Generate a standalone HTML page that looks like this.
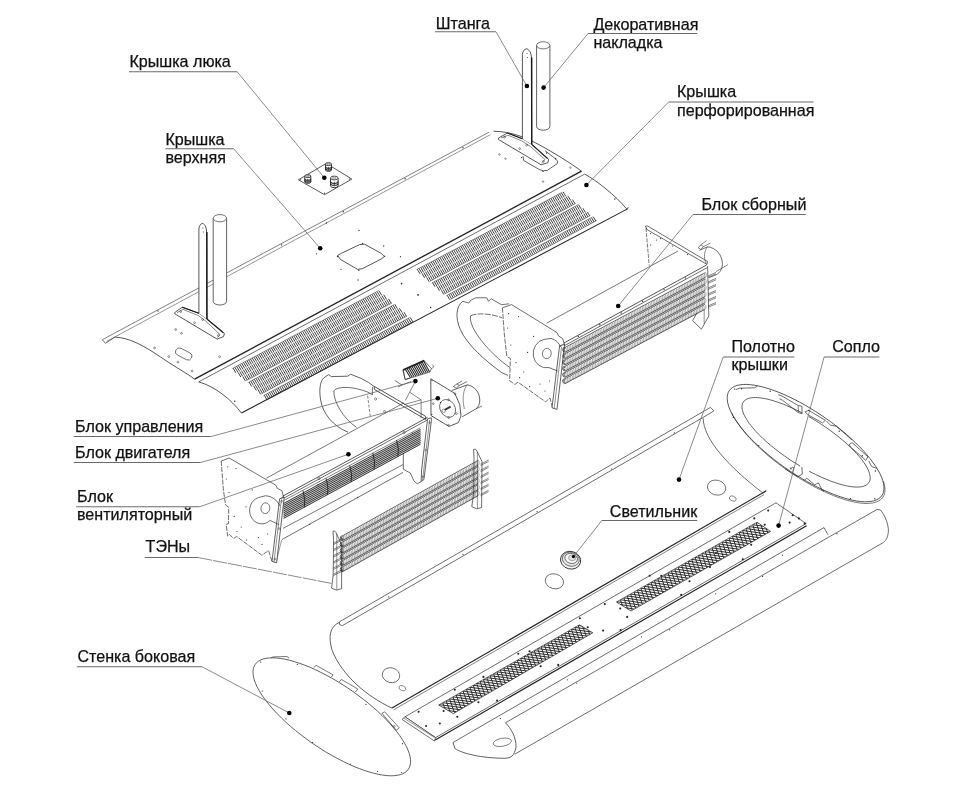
<!DOCTYPE html>
<html lang="ru"><head><meta charset="utf-8"><title>Схема</title>
<style>
html,body{margin:0;padding:0;background:#fff;}
body{width:963px;height:788px;overflow:hidden;}
svg{display:block;will-change:transform;}
text{font-family:"Liberation Sans",sans-serif;font-size:16.1px;fill:#111;stroke:#111;stroke-width:0.25px;}
</style></head><body>
<svg width="963" height="788" viewBox="0 0 963 788">
<rect width="963" height="788" fill="#fff"/>
<line x1="102.3" y1="339.7" x2="489.0" y2="132.2" stroke="#444" stroke-width="0.67" />
<line x1="106.6" y1="341.4" x2="490.5" y2="134.6" stroke="#444" stroke-width="0.56" />
<path d="M102.3,339.7 L105.5,343.3 L115.4,336.8" fill="none" stroke="#262626" stroke-width="0.67" />
<path d="M115.4,337.2 C128,337.4 143,345 160.4,356.9 S186,372.6 194.6,379.2" fill="none" stroke="#262626" stroke-width="0.78" />
<line x1="194.6" y1="379.2" x2="581.5" y2="171.2" stroke="#222" stroke-width="1.34" />
<path d="M493.5,131.2 C512,131.6 527,138 540,145.2 S570,162.6 581.5,171.2" fill="none" stroke="#262626" stroke-width="0.78" />
<circle cx="158.0" cy="311.0" r="0.7" fill="#333"/>
<circle cx="219.8" cy="278.0" r="0.7" fill="#333"/>
<circle cx="281.6" cy="244.9" r="0.7" fill="#333"/>
<circle cx="343.3" cy="211.8" r="0.7" fill="#333"/>
<circle cx="405.1" cy="178.7" r="0.7" fill="#333"/>
<circle cx="463.0" cy="147.7" r="0.7" fill="#333"/>
<path d="M337.6,255.4 L341.6,253.2 L359.6,244.6 L364.6,244.2 L381.6,253.6 L384.4,256.6 L381.2,259.0 L362.6,268.6 L357.6,269.4 L340.4,259.4 Z" fill="none" stroke="#262626" stroke-width="0.78" />
<circle cx="337.5" cy="256.5" r="0.7" fill="#333"/>
<circle cx="362.5" cy="243.5" r="0.7" fill="#333"/>
<circle cx="384.6" cy="256.3" r="0.7" fill="#333"/>
<circle cx="358.8" cy="270.2" r="0.7" fill="#333"/>
<circle cx="316.5" cy="253.8" r="0.65" fill="#333"/>
<circle cx="326.5" cy="223.0" r="0.65" fill="#333"/>
<circle cx="359.0" cy="230.5" r="0.65" fill="#333"/>
<circle cx="383.7" cy="246.0" r="0.65" fill="#333"/>
<circle cx="400.5" cy="256.7" r="0.65" fill="#333"/>
<circle cx="341.0" cy="269.3" r="0.65" fill="#333"/>
<circle cx="358.0" cy="280.0" r="0.65" fill="#333"/>
<circle cx="401.5" cy="283.5" r="0.65" fill="#333"/>
<circle cx="418.2" cy="295.0" r="0.65" fill="#333"/>
<rect x="174.9" y="350.2" width="17.6" height="7.6" rx="3.8" fill="none" stroke="#2a2a2a" stroke-width="0.6" transform="rotate(27 183.7 354)"/>
<circle cx="175.7" cy="329.5" r="0.9" fill="none" stroke="#262626" stroke-width="0.5"/>
<circle cx="181.5" cy="333.3" r="0.9" fill="none" stroke="#262626" stroke-width="0.5"/>
<circle cx="154.6" cy="347.9" r="0.9" fill="none" stroke="#262626" stroke-width="0.5"/>
<circle cx="168.7" cy="356.6" r="0.9" fill="none" stroke="#262626" stroke-width="0.5"/>
<circle cx="177.9" cy="362.2" r="0.9" fill="none" stroke="#262626" stroke-width="0.5"/>
<circle cx="192.1" cy="371.1" r="0.9" fill="none" stroke="#262626" stroke-width="0.5"/>
<circle cx="219.6" cy="356.6" r="0.9" fill="none" stroke="#262626" stroke-width="0.5"/>
<circle cx="499.5" cy="154.5" r="0.8" fill="none" stroke="#262626" stroke-width="0.45"/>
<circle cx="505.5" cy="158.6" r="0.8" fill="none" stroke="#262626" stroke-width="0.45"/>
<circle cx="570.4" cy="167.6" r="0.8" fill="none" stroke="#262626" stroke-width="0.45"/>
<circle cx="543.0" cy="181.6" r="0.8" fill="none" stroke="#262626" stroke-width="0.45"/>
<path d="M298.4,179.8 L326.3,163.4 L351.8,179.1 L324.5,194.7 Z" fill="none" stroke="#262626" stroke-width="0.78" />
<circle cx="300.6" cy="179.8" r="0.6" fill="#333"/>
<circle cx="326.3" cy="164.9" r="0.6" fill="#333"/>
<circle cx="349.4" cy="179.1" r="0.6" fill="#333"/>
<circle cx="324.5" cy="193.2" r="0.6" fill="#333"/>
<path d="M325.5,164.1 V169.89999999999998 A3.0,1.5 0 0 0 331.5,169.89999999999998 V164.1" fill="#fff" stroke="#222" stroke-width="0.9" />
<ellipse cx="328.5" cy="164.1" rx="3.0" ry="1.5" fill="#fff" stroke="#222" stroke-width="0.8"/>
<ellipse cx="328.5" cy="164.1" rx="1.5" ry="0.75" fill="none" stroke="#444" stroke-width="0.5"/>
<path d="M325.5,166.7 A3.0,1.5 0 0 0 331.5,166.7 M325.5,168.5 A3.0,1.5 0 0 0 331.5,168.5" fill="none" stroke="#222" stroke-width="1.01" />
<line x1="328.5" y1="166.9" x2="328.5" y2="170.7" stroke="#333" stroke-width="0.78" />
<path d="M304.8,176.1 V181.89999999999998 A3.0,1.5 0 0 0 310.8,181.89999999999998 V176.1" fill="#fff" stroke="#222" stroke-width="0.9" />
<ellipse cx="307.8" cy="176.1" rx="3.0" ry="1.5" fill="#fff" stroke="#222" stroke-width="0.8"/>
<ellipse cx="307.8" cy="176.1" rx="1.5" ry="0.75" fill="none" stroke="#444" stroke-width="0.5"/>
<path d="M304.8,178.7 A3.0,1.5 0 0 0 310.8,178.7 M304.8,180.5 A3.0,1.5 0 0 0 310.8,180.5" fill="none" stroke="#222" stroke-width="1.01" />
<line x1="307.8" y1="178.9" x2="307.8" y2="182.7" stroke="#333" stroke-width="0.78" />
<path d="M330.5,178.0 V185.79999999999998 A3.8,1.9 0 0 0 338.1,185.79999999999998 V178.0" fill="#fff" stroke="#222" stroke-width="0.9" />
<ellipse cx="334.3" cy="178.0" rx="3.8" ry="1.9" fill="#fff" stroke="#222" stroke-width="0.8"/>
<ellipse cx="334.3" cy="178.0" rx="1.9" ry="0.95" fill="none" stroke="#444" stroke-width="0.5"/>
<path d="M330.5,181.6 A3.8,1.9 0 0 0 338.1,181.6 M330.5,183.4 A3.8,1.9 0 0 0 338.1,183.4" fill="none" stroke="#222" stroke-width="1.01" />
<line x1="334.3" y1="181.8" x2="334.3" y2="186.6" stroke="#333" stroke-width="0.78" />
<path d="M213.2,218.2 V301.4 A6.7,3.6180000000000003 0 0 0 226.6,301.4 V218.2" fill="#fff" stroke="#262626" stroke-width="0.73" />
<ellipse cx="219.9" cy="218.2" rx="6.7" ry="3.6180000000000003" fill="#fff" stroke="#262626" stroke-width="0.65"/>
<path d="M174.7,312.6 L182.2,307.2 L198.9,313.3 L206.9,319.0 L224.4,333.4 L223.6,336.6 L217.1,339.1 L174.8,313.8 Z" fill="#fff" stroke="#262626" stroke-width="0.78" />
<path d="M177.0,312.6 L183.0,309.4 L198.0,315.4 L205.6,321.0 L220.0,334.6 L217.4,337.6" fill="none" stroke="#262626" stroke-width="0.56" />
<path d="M198.9,313.3 V229 Q199.3,224 202.9,223.2 Q206.3,225.5 206.5,230 L206.9,319" fill="#fff" stroke="#262626" stroke-width="0.78" />
<line x1="206.9" y1="232.0" x2="206.9" y2="319.0" stroke="#1a1a1a" stroke-width="1.46" />
<line x1="206.9" y1="319.0" x2="223.4" y2="332.8" stroke="#1a1a1a" stroke-width="1.12" />
<line x1="182.2" y1="307.2" x2="198.9" y2="313.3" stroke="#1a1a1a" stroke-width="1.12" />
<circle cx="202.9" cy="228.0" r="0.5" fill="#333"/>
<circle cx="203.3" cy="232.0" r="0.5" fill="#333"/>
<circle cx="180.6" cy="311.6" r="0.9" fill="none" stroke="#262626" stroke-width="0.5"/>
<circle cx="194.6" cy="322.6" r="0.9" fill="none" stroke="#262626" stroke-width="0.5"/>
<circle cx="202.6" cy="319.6" r="0.9" fill="none" stroke="#262626" stroke-width="0.5"/>
<circle cx="218.4" cy="335.6" r="0.9" fill="none" stroke="#262626" stroke-width="0.5"/>
<path d="M523,156.1 L523.6,160.5 L539.8,169.8 Q543.6,171.4 547.3,170.4 L557.3,163.6 Q558.4,161 556,159.2 L545,150.6" fill="none" stroke="#262626" stroke-width="0.73" />
<path d="M536.6,45.3 V126.6 A6.65,3.5910000000000006 0 0 0 549.9,126.6 V45.3" fill="#fff" stroke="#262626" stroke-width="0.73" />
<ellipse cx="543.2" cy="45.3" rx="6.65" ry="3.5910000000000006" fill="#fff" stroke="#262626" stroke-width="0.65"/>
<path d="M498.5,138.0 L507.4,133.0 L522.4,138.7 L531.7,144.3 L548.6,159.2 L548.0,162.6 L541.1,164.8 L498.6,139.6 Z" fill="#fff" stroke="#262626" stroke-width="0.78" />
<path d="M501.0,138.0 L508.0,135.2 L521.6,140.8 L530.6,146.6 L545.0,159.6 L541.6,163.2" fill="none" stroke="#262626" stroke-width="0.56" />
<path d="M522.4,138.7 V54.5 Q522.8,49.5 527.05,48.7 Q531.0999999999999,51.0 531.3,55.5 L531.6999999999999,144.3" fill="#fff" stroke="#262626" stroke-width="0.78" />
<line x1="531.7" y1="57.5" x2="531.7" y2="144.3" stroke="#1a1a1a" stroke-width="1.46" />
<line x1="531.7" y1="144.3" x2="547.6" y2="158.6" stroke="#1a1a1a" stroke-width="1.12" />
<line x1="507.4" y1="133.0" x2="522.4" y2="138.7" stroke="#1a1a1a" stroke-width="1.12" />
<circle cx="527.0" cy="53.5" r="0.5" fill="#333"/>
<circle cx="527.5" cy="57.5" r="0.5" fill="#333"/>
<circle cx="504.6" cy="137.2" r="0.9" fill="none" stroke="#262626" stroke-width="0.5"/>
<circle cx="519.6" cy="148.6" r="0.9" fill="none" stroke="#262626" stroke-width="0.5"/>
<circle cx="526.6" cy="145.2" r="0.9" fill="none" stroke="#262626" stroke-width="0.5"/>
<circle cx="543.4" cy="161.4" r="0.9" fill="none" stroke="#262626" stroke-width="0.5"/>
<circle cx="546.6" cy="153.0" r="0.7" fill="#333"/>
<circle cx="555.6" cy="158.8" r="0.7" fill="#333"/>
<circle cx="543.0" cy="171.4" r="0.7" fill="#333"/>
<circle cx="521.6" cy="157.6" r="0.7" fill="#333"/>
<line x1="198.7" y1="381.9" x2="584.7" y2="174.1" stroke="#262626" stroke-width="0.67" />
<path d="M198.7,381.9 C214,386 231,399 241.4,413" fill="none" stroke="#262626" stroke-width="0.78" />
<line x1="241.4" y1="413.0" x2="628.0" y2="208.6" stroke="#222" stroke-width="1.06" />
<path d="M584.7,174.1 C596,180 616,196 626.4,208.6 L628.6,207.6" fill="none" stroke="#262626" stroke-width="0.78" />
<circle cx="234.7" cy="401.3" r="0.75" fill="#333"/>
<circle cx="401.7" cy="283.8" r="0.75" fill="#333"/>
<circle cx="417.9" cy="294.8" r="0.75" fill="#333"/>
<circle cx="430.7" cy="307.6" r="0.75" fill="#333"/>
<circle cx="614.8" cy="199.0" r="0.75" fill="#333"/>
<path d="M233.1,368.1L235.9,372.8 M234.8,367.2L237.7,371.9 M236.6,366.2L239.4,370.9 M238.3,365.3L241.1,370 M240,364.4L242.9,369.1 M241.8,363.5L244.6,368.2 M243.5,362.5L246.4,367.2 M245.2,361.6L248.1,366.3 M247,360.7L249.8,365.4 M248.7,359.8L251.6,364.5 M250.4,358.9L253.3,363.6 M252.2,357.9L255,362.6 M253.9,357L256.8,361.7 M255.6,356.1L258.5,360.8 M257.4,355.2L260.2,359.9 M259.1,354.2L262,358.9 M260.8,353.3L263.7,358 M262.6,352.4L265.4,357.1 M264.3,351.5L267.2,356.2 M266.1,350.5L268.9,355.2 M267.8,349.6L270.6,354.3 M269.5,348.7L272.4,353.4 M271.3,347.8L274.1,352.5 M273,346.9L275.8,351.5 M274.7,345.9L277.6,350.6 M276.5,345L279.3,349.7 M278.2,344.1L281,348.8 M279.9,343.2L282.8,347.9 M281.7,342.2L284.5,346.9 M283.4,341.3L286.2,346 M285.1,340.4L288,345.1 M286.9,339.5L289.7,344.2 M288.6,338.6L291.5,343.2 M290.3,337.6L293.2,342.3 M292.1,336.7L294.9,341.4 M293.8,335.8L296.7,340.5 M295.5,334.9L298.4,339.5 M297.3,333.9L300.1,338.6 M299,333L301.9,337.7 M300.7,332.1L303.6,336.8 M302.5,331.2L305.3,335.9 M304.2,330.2L307.1,334.9 M305.9,329.3L308.8,334 M307.7,328.4L310.5,333.1 M309.4,327.5L312.3,332.2 M311.1,326.6L314,331.2 M312.9,325.6L315.7,330.3 M314.6,324.7L317.5,329.4 M316.4,323.8L319.2,328.5 M318.1,322.9L320.9,327.5 M319.8,321.9L322.7,326.6 M321.6,321L324.4,325.7 M323.3,320.1L326.1,324.8 M325,319.2L327.9,323.8 M326.8,318.3L329.6,322.9 M328.5,317.3L331.3,322 M330.2,316.4L333.1,321.1 M332,315.5L334.8,320.2 M333.7,314.6L336.6,319.2 M335.4,313.6L338.3,318.3 M337.2,312.7L340,317.4 M338.9,311.8L341.8,316.5 M340.6,310.9L343.5,315.5 M342.4,310L345.2,314.6 M344.1,309L347,313.7 M345.8,308.1L348.7,312.8 M347.6,307.2L350.4,311.8 M349.3,306.3L352.2,310.9 M351,305.3L353.9,310 M352.8,304.4L355.6,309.1 M354.5,303.5L357.4,308.1 M356.2,302.6L359.1,307.2 M358,301.6L360.8,306.3 M359.7,300.7L362.6,305.4 M361.4,299.8L364.3,304.5 M363.2,298.9L366,303.5 M364.9,298L367.8,302.6 M366.7,297L369.5,301.7 M368.4,296.1L371.2,300.8 M370.1,295.2L373,299.8 M371.9,294.3L374.7,298.9 M373.6,293.3L376.5,298 M375.3,292.4L378.2,297.1 M377.1,291.5L379.9,296.1 M378.8,290.6L381.7,295.2 M238,372.3L240.8,377 M239.7,371.4L242.5,376.1 M241.4,370.5L244.3,375.2 M243.2,369.5L246,374.2 M244.9,368.6L247.7,373.3 M246.6,367.7L249.5,372.4 M248.4,366.8L251.2,371.5 M250.1,365.8L253,370.5 M251.8,364.9L254.7,369.6 M253.6,364L256.4,368.7 M255.3,363.1L258.2,367.8 M257,362.2L259.9,366.9 M258.8,361.2L261.6,365.9 M260.5,360.3L263.4,365 M262.2,359.4L265.1,364.1 M264,358.5L266.8,363.2 M265.7,357.5L268.6,362.2 M267.4,356.6L270.3,361.3 M269.2,355.7L272,360.4 M270.9,354.8L273.8,359.5 M272.7,353.8L275.5,358.5 M274.4,352.9L277.2,357.6 M276.1,352L279,356.7 M277.9,351.1L280.7,355.8 M279.6,350.1L282.4,354.8 M281.3,349.2L284.2,353.9 M283.1,348.3L285.9,353 M284.8,347.4L287.6,352.1 M286.5,346.5L289.4,351.1 M288.3,345.5L291.1,350.2 M290,344.6L292.9,349.3 M291.7,343.7L294.6,348.4 M293.5,342.8L296.3,347.4 M295.2,341.8L298.1,346.5 M296.9,340.9L299.8,345.6 M298.7,340L301.5,344.7 M300.4,339.1L303.3,343.7 M302.1,338.1L305,342.8 M303.9,337.2L306.7,341.9 M305.6,336.3L308.5,341 M307.3,335.4L310.2,340.1 M309.1,334.4L311.9,339.1 M310.8,333.5L313.7,338.2 M312.5,332.6L315.4,337.3 M314.3,331.7L317.1,336.4 M316,330.8L318.9,335.4 M317.8,329.8L320.6,334.5 M319.5,328.9L322.3,333.6 M321.2,328L324.1,332.7 M323,327.1L325.8,331.7 M324.7,326.1L327.5,330.8 M326.4,325.2L329.3,329.9 M328.2,324.3L331,329 M329.9,323.4L332.8,328 M331.6,322.4L334.5,327.1 M333.4,321.5L336.2,326.2 M335.1,320.6L338,325.3 M336.8,319.7L339.7,324.3 M338.6,318.8L341.4,323.4 M340.3,317.8L343.2,322.5 M342,316.9L344.9,321.6 M343.8,316L346.6,320.6 M345.5,315.1L348.4,319.7 M347.2,314.1L350.1,318.8 M349,313.2L351.8,317.9 M350.7,312.3L353.6,316.9 M352.4,311.4L355.3,316 M354.2,310.4L357,315.1 M355.9,309.5L358.8,314.2 M357.7,308.6L360.5,313.3 M359.4,307.7L362.2,312.3 M361.1,306.7L364,311.4 M362.9,305.8L365.7,310.5 M364.6,304.9L367.4,309.6 M366.3,304L369.2,308.6 M368.1,303.1L370.9,307.7 M369.8,302.1L372.7,306.8 M371.5,301.2L374.4,305.9 M373.3,300.3L376.1,304.9 M375,299.4L377.9,304 M376.7,298.4L379.6,303.1 M378.5,297.5L381.3,302.2 M380.2,296.6L383.1,301.2 M381.9,295.7L384.8,300.3 M383.7,294.7L386.5,299.4 M242.8,376.5L245.4,381 M244.6,375.6L247.2,380.1 M246.3,374.7L248.9,379.2 M248,373.8L250.6,378.3 M249.8,372.8L252.4,377.3 M251.5,371.9L254.1,376.4 M253.2,371L255.8,375.5 M255,370.1L257.6,374.6 M256.7,369.1L259.3,373.6 M258.4,368.2L261,372.7 M260.2,367.3L262.8,371.8 M261.9,366.4L264.5,370.9 M263.6,365.5L266.2,369.9 M265.4,364.5L268,369 M267.1,363.6L269.7,368.1 M268.8,362.7L271.4,367.2 M270.6,361.8L273.2,366.2 M272.3,360.8L274.9,365.3 M274,359.9L276.7,364.4 M275.8,359L278.4,363.5 M277.5,358.1L280.1,362.5 M279.3,357.1L281.9,361.6 M281,356.2L283.6,360.7 M282.7,355.3L285.3,359.8 M284.5,354.4L287.1,358.8 M286.2,353.4L288.8,357.9 M287.9,352.5L290.5,357 M289.7,351.6L292.3,356.1 M291.4,350.7L294,355.1 M293.1,349.7L295.7,354.2 M294.9,348.8L297.5,353.3 M296.6,347.9L299.2,352.4 M298.3,347L300.9,351.4 M300.1,346L302.7,350.5 M301.8,345.1L304.4,349.6 M303.5,344.2L306.1,348.7 M305.3,343.3L307.9,347.7 M307,342.3L309.6,346.8 M308.7,341.4L311.4,345.9 M310.5,340.5L313.1,345 M312.2,339.6L314.8,344 M314,338.6L316.6,343.1 M315.7,337.7L318.3,342.2 M317.4,336.8L320,341.3 M319.2,335.9L321.8,340.3 M320.9,335L323.5,339.4 M322.6,334L325.2,338.5 M324.4,333.1L327,337.6 M326.1,332.2L328.7,336.6 M327.8,331.3L330.4,335.7 M329.6,330.3L332.2,334.8 M331.3,329.4L333.9,333.9 M333,328.5L335.6,332.9 M334.8,327.6L337.4,332 M336.5,326.6L339.1,331.1 M338.2,325.7L340.8,330.2 M340,324.8L342.6,329.2 M341.7,323.9L344.3,328.3 M343.4,322.9L346.1,327.4 M345.2,322L347.8,326.5 M346.9,321.1L349.5,325.5 M348.6,320.2L351.3,324.6 M350.4,319.2L353,323.7 M352.1,318.3L354.7,322.8 M353.9,317.4L356.5,321.8 M355.6,316.5L358.2,320.9 M357.3,315.5L359.9,320 M359.1,314.6L361.7,319.1 M360.8,313.7L363.4,318.1 M362.5,312.8L365.1,317.2 M364.3,311.8L366.9,316.3 M366,310.9L368.6,315.4 M367.7,310L370.3,314.4 M369.5,309.1L372.1,313.5 M371.2,308.1L373.8,312.6 M372.9,307.2L375.5,311.7 M374.7,306.3L377.3,310.7 M376.4,305.4L379,309.8 M378.1,304.5L380.8,308.9 M379.9,303.5L382.5,308 M381.6,302.6L384.2,307 M383.3,301.7L386,306.1 M385.1,300.8L387.7,305.2 M386.8,299.8L389.4,304.3 M388.5,298.9L391.2,303.3 M249.1,382L251.7,386.5 M250.8,381.1L253.4,385.5 M252.5,380.1L255.1,384.6 M254.3,379.2L256.9,383.7 M256,378.3L258.6,382.8 M257.7,377.4L260.3,381.8 M259.5,376.4L262.1,380.9 M261.2,375.5L263.8,380 M262.9,374.6L265.6,379.1 M264.7,373.7L267.3,378.1 M266.4,372.7L269,377.2 M268.2,371.8L270.8,376.3 M269.9,370.9L272.5,375.4 M271.6,370L274.2,374.4 M273.4,369L276,373.5 M275.1,368.1L277.7,372.6 M276.8,367.2L279.4,371.7 M278.6,366.3L281.2,370.7 M280.3,365.3L282.9,369.8 M282,364.4L284.6,368.9 M283.8,363.5L286.4,368 M285.5,362.6L288.1,367 M287.2,361.6L289.8,366.1 M289,360.7L291.6,365.2 M290.7,359.8L293.3,364.3 M292.4,358.8L295,363.3 M294.2,357.9L296.8,362.4 M295.9,357L298.5,361.5 M297.7,356.1L300.3,360.5 M299.4,355.1L302,359.6 M301.1,354.2L303.7,358.7 M302.9,353.3L305.5,357.8 M304.6,352.4L307.2,356.8 M306.3,351.4L308.9,355.9 M308.1,350.5L310.7,355 M309.8,349.6L312.4,354.1 M311.5,348.7L314.1,353.1 M313.3,347.7L315.9,352.2 M315,346.8L317.6,351.3 M316.7,345.9L319.3,350.4 M318.5,345L321.1,349.4 M320.2,344L322.8,348.5 M321.9,343.1L324.5,347.6 M323.7,342.2L326.3,346.7 M325.4,341.3L328,345.7 M327.1,340.3L329.8,344.8 M328.9,339.4L331.5,343.9 M330.6,338.5L333.2,343 M332.4,337.6L335,342 M334.1,336.6L336.7,341.1 M335.8,335.7L338.4,340.2 M337.6,334.8L340.2,339.2 M339.3,333.9L341.9,338.3 M341,332.9L343.6,337.4 M342.8,332L345.4,336.5 M344.5,331.1L347.1,335.5 M346.2,330.2L348.8,334.6 M348,329.2L350.6,333.7 M349.7,328.3L352.3,332.8 M351.4,327.4L354,331.8 M353.2,326.5L355.8,330.9 M354.9,325.5L357.5,330 M356.6,324.6L359.3,329.1 M358.4,323.7L361,328.1 M360.1,322.8L362.7,327.2 M361.8,321.8L364.5,326.3 M363.6,320.9L366.2,325.4 M365.3,320L367.9,324.4 M367.1,319.1L369.7,323.5 M368.8,318.1L371.4,322.6 M370.5,317.2L373.1,321.7 M372.3,316.3L374.9,320.7 M374,315.4L376.6,319.8 M375.7,314.4L378.3,318.9 M377.5,313.5L380.1,318 M379.2,312.6L381.8,317 M380.9,311.7L383.5,316.1 M382.7,310.7L385.3,315.2 M384.4,309.8L387,314.2 M386.1,308.9L388.8,313.3 M387.9,308L390.5,312.4 M389.6,307L392.2,311.5 M391.3,306.1L394,310.5 M393.1,305.2L395.7,309.6 M394.8,304.3L397.4,308.7 M253.7,386L256.3,390.5 M255.4,385.1L258,389.6 M257.2,384.1L259.8,388.6 M258.9,383.2L261.5,387.7 M260.6,382.3L263.2,386.8 M262.4,381.4L265,385.9 M264.1,380.4L266.7,384.9 M265.8,379.5L268.4,384 M267.6,378.6L270.2,383.1 M269.3,377.7L271.9,382.2 M271,376.7L273.6,381.2 M272.8,375.8L275.4,380.3 M274.5,374.9L277.1,379.4 M276.2,374L278.8,378.4 M278,373L280.6,377.5 M279.7,372.1L282.3,376.6 M281.4,371.2L284.1,375.7 M283.2,370.3L285.8,374.7 M284.9,369.3L287.5,373.8 M286.7,368.4L289.3,372.9 M288.4,367.5L291,372 M290.1,366.6L292.7,371 M291.9,365.6L294.5,370.1 M293.6,364.7L296.2,369.2 M295.3,363.8L297.9,368.2 M297.1,362.8L299.7,367.3 M298.8,361.9L301.4,366.4 M300.5,361L303.1,365.5 M302.3,360.1L304.9,364.5 M304,359.1L306.6,363.6 M305.7,358.2L308.3,362.7 M307.5,357.3L310.1,361.8 M309.2,356.4L311.8,360.8 M310.9,355.4L313.6,359.9 M312.7,354.5L315.3,359 M314.4,353.6L317,358.1 M316.2,352.7L318.8,357.1 M317.9,351.7L320.5,356.2 M319.6,350.8L322.2,355.3 M321.4,349.9L324,354.3 M323.1,349L325.7,353.4 M324.8,348L327.4,352.5 M326.6,347.1L329.2,351.6 M328.3,346.2L330.9,350.6 M330,345.3L332.6,349.7 M331.8,344.3L334.4,348.8 M333.5,343.4L336.1,347.9 M335.2,342.5L337.8,346.9 M337,341.5L339.6,346 M338.7,340.6L341.3,345.1 M340.4,339.7L343.1,344.2 M342.2,338.8L344.8,343.2 M343.9,337.8L346.5,342.3 M345.7,336.9L348.3,341.4 M347.4,336L350,340.4 M349.1,335.1L351.7,339.5 M350.9,334.1L353.5,338.6 M352.6,333.2L355.2,337.7 M354.3,332.3L356.9,336.7 M356.1,331.4L358.7,335.8 M357.8,330.4L360.4,334.9 M359.5,329.5L362.1,334 M361.3,328.6L363.9,333 M363,327.7L365.6,332.1 M364.7,326.7L367.3,331.2 M366.5,325.8L369.1,330.3 M368.2,324.9L370.8,329.3 M369.9,324L372.6,328.4 M371.7,323L374.3,327.5 M373.4,322.1L376,326.5 M375.1,321.2L377.8,325.6 M376.9,320.2L379.5,324.7 M378.6,319.3L381.2,323.8 M380.4,318.4L383,322.8 M382.1,317.5L384.7,321.9 M383.8,316.5L386.4,321 M385.6,315.6L388.2,320.1 M387.3,314.7L389.9,319.1 M389,313.8L391.6,318.2 M390.8,312.8L393.4,317.3 M392.5,311.9L395.1,316.4 M394.2,311L396.8,315.4 M396,310.1L398.6,314.5 M397.7,309.1L400.3,313.6 M399.4,308.2L402.1,312.6 M258.3,390L260.6,394.3 M260,389.1L262.4,393.3 M261.8,388.2L264.1,392.4 M263.5,387.2L265.8,391.5 M265.2,386.3L267.6,390.6 M267,385.4L269.3,389.6 M268.7,384.5L271,388.7 M270.4,383.5L272.8,387.8 M272.2,382.6L274.5,386.8 M273.9,381.7L276.2,385.9 M275.7,380.7L278,385 M277.4,379.8L279.7,384.1 M279.1,378.9L281.4,383.1 M280.9,378L283.2,382.2 M282.6,377L284.9,381.3 M284.3,376.1L286.6,380.3 M286.1,375.2L288.4,379.4 M287.8,374.3L290.1,378.5 M289.5,373.3L291.9,377.6 M291.3,372.4L293.6,376.6 M293,371.5L295.3,375.7 M294.7,370.6L297.1,374.8 M296.5,369.6L298.8,373.9 M298.2,368.7L300.5,372.9 M299.9,367.8L302.3,372 M301.7,366.8L304,371.1 M303.4,365.9L305.7,370.1 M305.2,365L307.5,369.2 M306.9,364.1L309.2,368.3 M308.6,363.1L310.9,367.4 M310.4,362.2L312.7,366.4 M312.1,361.3L314.4,365.5 M313.8,360.4L316.2,364.6 M315.6,359.4L317.9,363.7 M317.3,358.5L319.6,362.7 M319,357.6L321.4,361.8 M320.8,356.6L323.1,360.9 M322.5,355.7L324.8,359.9 M324.2,354.8L326.6,359 M326,353.9L328.3,358.1 M327.7,352.9L330,357.2 M329.4,352L331.8,356.2 M331.2,351.1L333.5,355.3 M332.9,350.2L335.2,354.4 M334.7,349.2L337,353.5 M336.4,348.3L338.7,352.5 M338.1,347.4L340.4,351.6 M339.9,346.5L342.2,350.7 M341.6,345.5L343.9,349.7 M343.3,344.6L345.7,348.8 M345.1,343.7L347.4,347.9 M346.8,342.7L349.1,347 M348.5,341.8L350.9,346 M350.3,340.9L352.6,345.1 M352,340L354.3,344.2 M353.7,339L356.1,343.2 M355.5,338.1L357.8,342.3 M357.2,337.2L359.5,341.4 M359,336.3L361.3,340.5 M360.7,335.3L363,339.5 M362.4,334.4L364.7,338.6 M364.2,333.5L366.5,337.7 M365.9,332.6L368.2,336.8 M367.6,331.6L370,335.8 M369.4,330.7L371.7,334.9 M371.1,329.8L373.4,334 M372.8,328.8L375.2,333 M374.6,327.9L376.9,332.1 M376.3,327L378.6,331.2 M378,326.1L380.4,330.3 M379.8,325.1L382.1,329.3 M381.5,324.2L383.8,328.4 M383.2,323.3L385.6,327.5 M385,322.4L387.3,326.6 M386.7,321.4L389,325.6 M388.5,320.5L390.8,324.7 M390.2,319.6L392.5,323.8 M391.9,318.6L394.2,322.8 M393.7,317.7L396,321.9 M395.4,316.8L397.7,321 M397.1,315.9L399.5,320.1 M398.9,314.9L401.2,319.1 M400.6,314L402.9,318.2 M402.3,313.1L404.7,317.3 M404.1,312.2L406.4,316.4 M264.3,395.2L267,399.8 M266,394.3L268.7,398.9 M267.7,393.4L270.5,398 M269.5,392.4L272.2,397 M271.2,391.5L273.9,396.1 M272.9,390.6L275.7,395.2 M274.7,389.6L277.4,394.3 M276.4,388.7L279.2,393.3 M278.1,387.8L280.9,392.4 M279.9,386.9L282.6,391.5 M281.6,385.9L284.4,390.5 M283.4,385L286.1,389.6 M285.1,384.1L287.8,388.7 M286.8,383.1L289.6,387.8 M288.6,382.2L291.3,386.8 M290.3,381.3L293,385.9 M292,380.4L294.8,385 M293.8,379.4L296.5,384 M295.5,378.5L298.2,383.1 M297.2,377.6L300,382.2 M299,376.6L301.7,381.3 M300.7,375.7L303.5,380.3 M302.4,374.8L305.2,379.4 M304.2,373.9L306.9,378.5 M305.9,372.9L308.7,377.5 M307.7,372L310.4,376.6 M309.4,371.1L312.1,375.7 M311.1,370.2L313.9,374.8 M312.9,369.2L315.6,373.8 M314.6,368.3L317.3,372.9 M316.3,367.4L319.1,372 M318.1,366.4L320.8,371 M319.8,365.5L322.5,370.1 M321.5,364.6L324.3,369.2 M323.3,363.7L326,368.3 M325,362.7L327.8,367.3 M326.7,361.8L329.5,366.4 M328.5,360.9L331.2,365.5 M330.2,359.9L333,364.5 M331.9,359L334.7,363.6 M333.7,358.1L336.4,362.7 M335.4,357.2L338.2,361.8 M337.2,356.2L339.9,360.8 M338.9,355.3L341.6,359.9 M340.6,354.4L343.4,359 M342.4,353.5L345.1,358 M344.1,352.5L346.8,357.1 M345.8,351.6L348.6,356.2 M347.6,350.7L350.3,355.3 M349.3,349.7L352.1,354.3 M351,348.8L353.8,353.4 M352.8,347.9L355.5,352.5 M354.5,347L357.3,351.5 M356.2,346L359,350.6 M358,345.1L360.7,349.7 M359.7,344.2L362.5,348.8 M361.5,343.2L364.2,347.8 M363.2,342.3L365.9,346.9 M364.9,341.4L367.7,346 M366.7,340.5L369.4,345 M368.4,339.5L371.1,344.1 M370.1,338.6L372.9,343.2 M371.9,337.7L374.6,342.3 M373.6,336.8L376.4,341.3 M375.3,335.8L378.1,340.4 M377.1,334.9L379.8,339.5 M378.8,334L381.6,338.5 M380.5,333L383.3,337.6 M382.3,332.1L385,336.7 M384,331.2L386.8,335.8 M385.8,330.3L388.5,334.8 M387.5,329.3L390.2,333.9 M389.2,328.4L392,333 M391,327.5L393.7,332 M392.7,326.5L395.4,331.1 M394.4,325.6L397.2,330.2 M396.2,324.7L398.9,329.3 M397.9,323.8L400.7,328.3 M399.6,322.8L402.4,327.4 M401.4,321.9L404.1,326.5 M403.1,321L405.9,325.5 M404.8,320.1L407.6,324.6 M406.6,319.1L409.3,323.7 M408.3,318.2L411.1,322.8 M410.1,317.3L412.8,321.8" fill="none" stroke="#242424" stroke-width="0.87" />
<path d="M232.3,368.5L378,291 M246.2,380.6L392,302.9 M248.3,382.4L394,304.7 M261.4,393.8L407.2,315.9 M263.5,395.6L409.3,317.7 M267.8,399.4L413.6,321.4" fill="none" stroke="#333" stroke-width="0.5" />
<path d="M417.3,269.3L420,273.8 M419,268.4L421.7,272.9 M420.8,267.4L423.4,272 M422.5,266.5L425.2,271.1 M424.2,265.6L426.9,270.1 M426,264.7L428.6,269.2 M427.7,263.7L430.4,268.3 M429.4,262.8L432.1,267.4 M431.2,261.9L433.9,266.4 M432.9,261L435.6,265.5 M434.7,260.1L437.3,264.6 M436.4,259.1L439.1,263.7 M438.1,258.2L440.8,262.7 M439.9,257.3L442.5,261.8 M441.6,256.4L444.3,260.9 M443.3,255.5L446,260 M445.1,254.5L447.7,259 M446.8,253.6L449.5,258.1 M448.5,252.7L451.2,257.2 M450.3,251.8L453,256.3 M452,250.8L454.7,255.4 M453.7,249.9L456.4,254.4 M455.5,249L458.2,253.5 M457.2,248.1L459.9,252.6 M459,247.2L461.6,251.7 M460.7,246.2L463.4,250.7 M462.4,245.3L465.1,249.8 M464.2,244.4L466.8,248.9 M465.9,243.5L468.6,248 M467.6,242.6L470.3,247 M469.4,241.6L472,246.1 M471.1,240.7L473.8,245.2 M472.8,239.8L475.5,244.3 M474.6,238.9L477.3,243.4 M476.3,237.9L479,242.4 M478,237L480.7,241.5 M479.8,236.1L482.5,240.6 M481.5,235.2L484.2,239.7 M483.3,234.3L485.9,238.7 M485,233.3L487.7,237.8 M486.7,232.4L489.4,236.9 M488.5,231.5L491.1,236 M490.2,230.6L492.9,235 M491.9,229.7L494.6,234.1 M493.7,228.7L496.4,233.2 M495.4,227.8L498.1,232.3 M497.1,226.9L499.8,231.3 M498.9,226L501.6,230.4 M500.6,225L503.3,229.5 M502.3,224.1L505,228.6 M504.1,223.2L506.8,227.7 M505.8,222.3L508.5,226.7 M507.6,221.4L510.2,225.8 M509.3,220.4L512,224.9 M511,219.5L513.7,224 M512.8,218.6L515.4,223 M514.5,217.7L517.2,222.1 M516.2,216.8L518.9,221.2 M518,215.8L520.7,220.3 M519.7,214.9L522.4,219.3 M521.4,214L524.1,218.4 M523.2,213.1L525.9,217.5 M524.9,212.1L527.6,216.6 M526.6,211.2L529.3,215.7 M528.4,210.3L531.1,214.7 M530.1,209.4L532.8,213.8 M531.9,208.5L534.5,212.9 M533.6,207.5L536.3,212 M535.3,206.6L538,211 M537.1,205.7L539.8,210.1 M538.8,204.8L541.5,209.2 M540.5,203.9L543.2,208.3 M542.3,202.9L545,207.3 M544,202L546.7,206.4 M545.7,201.1L548.4,205.5 M547.5,200.2L550.2,204.6 M549.2,199.2L551.9,203.6 M550.9,198.3L553.6,202.7 M552.7,197.4L555.4,201.8 M554.4,196.5L557.1,200.9 M556.2,195.6L558.8,200 M557.9,194.6L560.6,199 M559.6,193.7L562.3,198.1 M561.4,192.8L564.1,197.2 M563.1,191.9L565.8,196.3 M422,273.3L424.6,277.9 M423.7,272.4L426.4,277 M425.4,271.5L428.1,276 M427.2,270.6L429.8,275.1 M428.9,269.6L431.6,274.2 M430.6,268.7L433.3,273.3 M432.4,267.8L435.1,272.3 M434.1,266.9L436.8,271.4 M435.9,265.9L438.5,270.5 M437.6,265L440.3,269.5 M439.3,264.1L442,268.6 M441.1,263.2L443.7,267.7 M442.8,262.2L445.5,266.8 M444.5,261.3L447.2,265.8 M446.3,260.4L448.9,264.9 M448,259.5L450.7,264 M449.7,258.6L452.4,263.1 M451.5,257.6L454.2,262.1 M453.2,256.7L455.9,261.2 M455,255.8L457.6,260.3 M456.7,254.9L459.4,259.4 M458.4,253.9L461.1,258.4 M460.2,253L462.8,257.5 M461.9,252.1L464.6,256.6 M463.6,251.2L466.3,255.7 M465.4,250.2L468,254.7 M467.1,249.3L469.8,253.8 M468.8,248.4L471.5,252.9 M470.6,247.5L473.3,252 M472.3,246.5L475,251 M474,245.6L476.7,250.1 M475.8,244.7L478.5,249.2 M477.5,243.8L480.2,248.3 M479.3,242.9L481.9,247.3 M481,241.9L483.7,246.4 M482.7,241L485.4,245.5 M484.5,240.1L487.1,244.6 M486.2,239.2L488.9,243.6 M487.9,238.2L490.6,242.7 M489.7,237.3L492.4,241.8 M491.4,236.4L494.1,240.9 M493.1,235.5L495.8,239.9 M494.9,234.5L497.6,239 M496.6,233.6L499.3,238.1 M498.4,232.7L501,237.2 M500.1,231.8L502.8,236.2 M501.8,230.8L504.5,235.3 M503.6,229.9L506.2,234.4 M505.3,229L508,233.5 M507,228.1L509.7,232.5 M508.8,227.2L511.5,231.6 M510.5,226.2L513.2,230.7 M512.2,225.3L514.9,229.8 M514,224.4L516.7,228.8 M515.7,223.5L518.4,227.9 M517.4,222.5L520.1,227 M519.2,221.6L521.9,226.1 M520.9,220.7L523.6,225.1 M522.7,219.8L525.3,224.2 M524.4,218.8L527.1,223.3 M526.1,217.9L528.8,222.3 M527.9,217L530.6,221.4 M529.6,216.1L532.3,220.5 M531.3,215.1L534,219.6 M533.1,214.2L535.8,218.6 M534.8,213.3L537.5,217.7 M536.5,212.4L539.2,216.8 M538.3,211.5L541,215.9 M540,210.5L542.7,214.9 M541.8,209.6L544.4,214 M543.5,208.7L546.2,213.1 M545.2,207.8L547.9,212.2 M547,206.8L549.7,211.2 M548.7,205.9L551.4,210.3 M550.4,205L553.1,209.4 M552.2,204.1L554.9,208.5 M553.9,203.1L556.6,207.5 M555.6,202.2L558.3,206.6 M557.4,201.3L560.1,205.7 M559.1,200.4L561.8,204.8 M560.8,199.4L563.5,203.8 M562.6,198.5L565.3,202.9 M564.3,197.6L567,202 M566.1,196.7L568.8,201.1 M567.8,195.8L570.5,200.1 M426.6,277.4L429.1,281.7 M428.4,276.5L430.8,280.8 M430.1,275.5L432.5,279.9 M431.8,274.6L434.3,278.9 M433.6,273.7L436,278 M435.3,272.8L437.8,277.1 M437.1,271.8L439.5,276.2 M438.8,270.9L441.2,275.2 M440.5,270L443,274.3 M442.3,269.1L444.7,273.4 M444,268.1L446.4,272.5 M445.7,267.2L448.2,271.5 M447.5,266.3L449.9,270.6 M449.2,265.4L451.6,269.7 M450.9,264.4L453.4,268.7 M452.7,263.5L455.1,267.8 M454.4,262.6L456.9,266.9 M456.2,261.7L458.6,266 M457.9,260.7L460.3,265 M459.6,259.8L462.1,264.1 M461.4,258.9L463.8,263.2 M463.1,257.9L465.5,262.2 M464.8,257L467.3,261.3 M466.6,256.1L469,260.4 M468.3,255.2L470.8,259.5 M470,254.2L472.5,258.5 M471.8,253.3L474.2,257.6 M473.5,252.4L476,256.7 M475.3,251.5L477.7,255.8 M477,250.5L479.4,254.8 M478.7,249.6L481.2,253.9 M480.5,248.7L482.9,253 M482.2,247.8L484.6,252 M483.9,246.8L486.4,251.1 M485.7,245.9L488.1,250.2 M487.4,245L489.9,249.3 M489.1,244.1L491.6,248.3 M490.9,243.1L493.3,247.4 M492.6,242.2L495.1,246.5 M494.4,241.3L496.8,245.6 M496.1,240.4L498.5,244.6 M497.8,239.4L500.3,243.7 M499.6,238.5L502,242.8 M501.3,237.6L503.7,241.8 M503,236.7L505.5,240.9 M504.8,235.7L507.2,240 M506.5,234.8L509,239.1 M508.2,233.9L510.7,238.1 M510,233L512.4,237.2 M511.7,232L514.2,236.3 M513.5,231.1L515.9,235.4 M515.2,230.2L517.6,234.4 M516.9,229.3L519.4,233.5 M518.7,228.3L521.1,232.6 M520.4,227.4L522.9,231.6 M522.1,226.5L524.6,230.7 M523.9,225.5L526.3,229.8 M525.6,224.6L528.1,228.9 M527.3,223.7L529.8,227.9 M529.1,222.8L531.5,227 M530.8,221.8L533.3,226.1 M532.6,220.9L535,225.1 M534.3,220L536.7,224.2 M536,219.1L538.5,223.3 M537.8,218.1L540.2,222.4 M539.5,217.2L542,221.4 M541.2,216.3L543.7,220.5 M543,215.4L545.4,219.6 M544.7,214.4L547.2,218.7 M546.4,213.5L548.9,217.7 M548.2,212.6L550.6,216.8 M549.9,211.7L552.4,215.9 M551.7,210.7L554.1,214.9 M553.4,209.8L555.8,214 M555.1,208.9L557.6,213.1 M556.9,208L559.3,212.2 M558.6,207L561.1,211.2 M560.3,206.1L562.8,210.3 M562.1,205.2L564.5,209.4 M563.8,204.3L566.3,208.5 M565.5,203.3L568,207.5 M567.3,202.4L569.7,206.6 M569,201.5L571.5,205.7 M570.8,200.6L573.2,204.7 M572.5,199.6L575,203.8 M432.6,282.6L435.1,286.9 M434.4,281.7L436.8,286 M436.1,280.7L438.5,285.1 M437.8,279.8L440.3,284.1 M439.6,278.9L442,283.2 M441.3,278L443.8,282.3 M443.1,277L445.5,281.4 M444.8,276.1L447.2,280.4 M446.5,275.2L449,279.5 M448.3,274.2L450.7,278.6 M450,273.3L452.4,277.6 M451.7,272.4L454.2,276.7 M453.5,271.5L455.9,275.8 M455.2,270.5L457.7,274.8 M457,269.6L459.4,273.9 M458.7,268.7L461.1,273 M460.4,267.7L462.9,272.1 M462.2,266.8L464.6,271.1 M463.9,265.9L466.3,270.2 M465.6,265L468.1,269.3 M467.4,264L469.8,268.3 M469.1,263.1L471.6,267.4 M470.8,262.2L473.3,266.5 M472.6,261.2L475,265.5 M474.3,260.3L476.8,264.6 M476.1,259.4L478.5,263.7 M477.8,258.5L480.2,262.8 M479.5,257.5L482,261.8 M481.3,256.6L483.7,260.9 M483,255.7L485.5,260 M484.7,254.7L487.2,259 M486.5,253.8L488.9,258.1 M488.2,252.9L490.7,257.2 M490,252L492.4,256.2 M491.7,251L494.1,255.3 M493.4,250.1L495.9,254.4 M495.2,249.2L497.6,253.4 M496.9,248.2L499.3,252.5 M498.6,247.3L501.1,251.6 M500.4,246.4L502.8,250.7 M502.1,245.5L504.6,249.7 M503.8,244.5L506.3,248.8 M505.6,243.6L508,247.9 M507.3,242.7L509.8,246.9 M509.1,241.7L511.5,246 M510.8,240.8L513.2,245.1 M512.5,239.9L515,244.1 M514.3,239L516.7,243.2 M516,238L518.5,242.3 M517.7,237.1L520.2,241.4 M519.5,236.2L521.9,240.4 M521.2,235.2L523.7,239.5 M523,234.3L525.4,238.6 M524.7,233.4L527.1,237.6 M526.4,232.5L528.9,236.7 M528.2,231.5L530.6,235.8 M529.9,230.6L532.4,234.8 M531.6,229.7L534.1,233.9 M533.4,228.7L535.8,233 M535.1,227.8L537.6,232.1 M536.8,226.9L539.3,231.1 M538.6,226L541,230.2 M540.3,225L542.8,229.3 M542.1,224.1L544.5,228.3 M543.8,223.2L546.2,227.4 M545.5,222.3L548,226.5 M547.3,221.3L549.7,225.5 M549,220.4L551.5,224.6 M550.7,219.5L553.2,223.7 M552.5,218.5L554.9,222.8 M554.2,217.6L556.7,221.8 M556,216.7L558.4,220.9 M557.7,215.8L560.1,220 M559.4,214.8L561.9,219 M561.2,213.9L563.6,218.1 M562.9,213L565.4,217.2 M564.6,212L567.1,216.2 M566.4,211.1L568.8,215.3 M568.1,210.2L570.6,214.4 M569.8,209.3L572.3,213.4 M571.6,208.3L574,212.5 M573.3,207.4L575.8,211.6 M575.1,206.5L577.5,210.7 M576.8,205.5L579.3,209.7 M578.5,204.6L581,208.8 M437.1,286.4L439.5,290.8 M438.8,285.5L441.2,289.9 M440.5,284.6L443,288.9 M442.3,283.7L444.7,288 M444,282.7L446.5,287.1 M445.8,281.8L448.2,286.1 M447.5,280.9L449.9,285.2 M449.2,279.9L451.7,284.3 M451,279L453.4,283.3 M452.7,278.1L455.1,282.4 M454.4,277.1L456.9,281.5 M456.2,276.2L458.6,280.5 M457.9,275.3L460.4,279.6 M459.7,274.3L462.1,278.7 M461.4,273.4L463.8,277.7 M463.1,272.5L465.6,276.8 M464.9,271.6L467.3,275.9 M466.6,270.6L469,274.9 M468.3,269.7L470.8,274 M470.1,268.8L472.5,273.1 M471.8,267.8L474.3,272.1 M473.6,266.9L476,271.2 M475.3,266L477.7,270.3 M477,265L479.5,269.3 M478.8,264.1L481.2,268.4 M480.5,263.2L482.9,267.5 M482.2,262.3L484.7,266.5 M484,261.3L486.4,265.6 M485.7,260.4L488.2,264.7 M487.4,259.5L489.9,263.8 M489.2,258.5L491.6,262.8 M490.9,257.6L493.4,261.9 M492.7,256.7L495.1,261 M494.4,255.7L496.8,260 M496.1,254.8L498.6,259.1 M497.9,253.9L500.3,258.2 M499.6,252.9L502.1,257.2 M501.3,252L503.8,256.3 M503.1,251.1L505.5,255.4 M504.8,250.2L507.3,254.4 M506.6,249.2L509,253.5 M508.3,248.3L510.7,252.6 M510,247.4L512.5,251.6 M511.8,246.4L514.2,250.7 M513.5,245.5L516,249.8 M515.2,244.6L517.7,248.8 M517,243.6L519.4,247.9 M518.7,242.7L521.2,247 M520.5,241.8L522.9,246 M522.2,240.9L524.6,245.1 M523.9,239.9L526.4,244.2 M525.7,239L528.1,243.2 M527.4,238.1L529.9,242.3 M529.1,237.1L531.6,241.4 M530.9,236.2L533.3,240.4 M532.6,235.3L535.1,239.5 M534.3,234.3L536.8,238.6 M536.1,233.4L538.5,237.6 M537.8,232.5L540.3,236.7 M539.6,231.5L542,235.8 M541.3,230.6L543.8,234.9 M543,229.7L545.5,233.9 M544.8,228.8L547.2,233 M546.5,227.8L549,232.1 M548.2,226.9L550.7,231.1 M550,226L552.4,230.2 M551.7,225L554.2,229.3 M553.5,224.1L555.9,228.3 M555.2,223.2L557.7,227.4 M556.9,222.2L559.4,226.5 M558.7,221.3L561.1,225.5 M560.4,220.4L562.9,224.6 M562.1,219.5L564.6,223.7 M563.9,218.5L566.3,222.7 M565.6,217.6L568.1,221.8 M567.4,216.7L569.8,220.9 M569.1,215.7L571.5,219.9 M570.8,214.8L573.3,219 M572.6,213.9L575,218.1 M574.3,212.9L576.8,217.1 M576,212L578.5,216.2 M577.8,211.1L580.2,215.3 M579.5,210.1L582,214.3 M581.3,209.2L583.7,213.4 M583,208.3L585.4,212.5 M441.5,290.3L443.7,294.4 M443.2,289.4L445.4,293.5 M445,288.4L447.1,292.5 M446.7,287.5L448.9,291.6 M448.5,286.6L450.6,290.7 M450.2,285.6L452.4,289.7 M451.9,284.7L454.1,288.8 M453.7,283.8L455.8,287.9 M455.4,282.8L457.6,286.9 M457.1,281.9L459.3,286 M458.9,281L461,285.1 M460.6,280L462.8,284.1 M462.4,279.1L464.5,283.2 M464.1,278.2L466.3,282.3 M465.8,277.2L468,281.3 M467.6,276.3L469.7,280.4 M469.3,275.4L471.5,279.5 M471,274.4L473.2,278.5 M472.8,273.5L474.9,277.6 M474.5,272.6L476.7,276.6 M476.3,271.6L478.4,275.7 M478,270.7L480.2,274.8 M479.7,269.8L481.9,273.8 M481.5,268.8L483.6,272.9 M483.2,267.9L485.4,272 M484.9,267L487.1,271 M486.7,266L488.8,270.1 M488.4,265.1L490.6,269.2 M490.2,264.2L492.3,268.2 M491.9,263.3L494.1,267.3 M493.6,262.3L495.8,266.4 M495.4,261.4L497.5,265.4 M497.1,260.5L499.3,264.5 M498.8,259.5L501,263.6 M500.6,258.6L502.7,262.6 M502.3,257.7L504.5,261.7 M504.1,256.7L506.2,260.8 M505.8,255.8L508,259.8 M507.5,254.9L509.7,258.9 M509.3,253.9L511.4,258 M511,253L513.2,257 M512.7,252.1L514.9,256.1 M514.5,251.1L516.7,255.2 M516.2,250.2L518.4,254.2 M517.9,249.3L520.1,253.3 M519.7,248.3L521.9,252.4 M521.4,247.4L523.6,251.4 M523.2,246.5L525.3,250.5 M524.9,245.5L527.1,249.6 M526.6,244.6L528.8,248.6 M528.4,243.7L530.6,247.7 M530.1,242.7L532.3,246.8 M531.8,241.8L534,245.8 M533.6,240.9L535.8,244.9 M535.3,239.9L537.5,244 M537.1,239L539.2,243 M538.8,238.1L541,242.1 M540.5,237.1L542.7,241.2 M542.3,236.2L544.5,240.2 M544,235.3L546.2,239.3 M545.7,234.3L547.9,238.4 M547.5,233.4L549.7,237.4 M549.2,232.5L551.4,236.5 M551,231.5L553.1,235.5 M552.7,230.6L554.9,234.6 M554.4,229.7L556.6,233.7 M556.2,228.8L558.4,232.7 M557.9,227.8L560.1,231.8 M559.6,226.9L561.8,230.9 M561.4,226L563.6,229.9 M563.1,225L565.3,229 M564.9,224.1L567,228.1 M566.6,223.2L568.8,227.1 M568.3,222.2L570.5,226.2 M570.1,221.3L572.3,225.3 M571.8,220.4L574,224.3 M573.5,219.4L575.7,223.4 M575.3,218.5L577.5,222.5 M577,217.6L579.2,221.5 M578.8,216.6L580.9,220.6 M580.5,215.7L582.7,219.7 M582.2,214.8L584.4,218.7 M584,213.8L586.2,217.8 M585.7,212.9L587.9,216.9 M587.4,212L589.6,215.9 M447.2,295.3L449.8,299.7 M449,294.3L451.5,298.8 M450.7,293.4L453.3,297.9 M452.4,292.5L455,296.9 M454.2,291.5L456.8,296 M455.9,290.6L458.5,295 M457.7,289.7L460.2,294.1 M459.4,288.7L462,293.2 M461.1,287.8L463.7,292.2 M462.9,286.8L465.5,291.3 M464.6,285.9L467.2,290.4 M466.3,285L468.9,289.4 M468.1,284L470.7,288.5 M469.8,283.1L472.4,287.5 M471.6,282.2L474.1,286.6 M473.3,281.2L475.9,285.7 M475,280.3L477.6,284.7 M476.8,279.4L479.4,283.8 M478.5,278.4L481.1,282.9 M480.3,277.5L482.8,281.9 M482,276.6L484.6,281 M483.7,275.6L486.3,280.1 M485.5,274.7L488,279.1 M487.2,273.8L489.8,278.2 M488.9,272.8L491.5,277.2 M490.7,271.9L493.3,276.3 M492.4,271L495,275.4 M494.2,270L496.7,274.4 M495.9,269.1L498.5,273.5 M497.6,268.1L500.2,272.6 M499.4,267.2L502,271.6 M501.1,266.3L503.7,270.7 M502.8,265.3L505.4,269.7 M504.6,264.4L507.2,268.8 M506.3,263.5L508.9,267.9 M508.1,262.5L510.6,266.9 M509.8,261.6L512.4,266 M511.5,260.7L514.1,265.1 M513.3,259.7L515.9,264.1 M515,258.8L517.6,263.2 M516.7,257.9L519.3,262.3 M518.5,256.9L521.1,261.3 M520.2,256L522.8,260.4 M522,255.1L524.5,259.4 M523.7,254.1L526.3,258.5 M525.4,253.2L528,257.6 M527.2,252.3L529.8,256.6 M528.9,251.3L531.5,255.7 M530.6,250.4L533.2,254.8 M532.4,249.4L535,253.8 M534.1,248.5L536.7,252.9 M535.9,247.6L538.5,251.9 M537.6,246.6L540.2,251 M539.3,245.7L541.9,250.1 M541.1,244.8L543.7,249.1 M542.8,243.8L545.4,248.2 M544.5,242.9L547.1,247.3 M546.3,242L548.9,246.3 M548,241L550.6,245.4 M549.8,240.1L552.4,244.4 M551.5,239.2L554.1,243.5 M553.2,238.2L555.8,242.6 M555,237.3L557.6,241.6 M556.7,236.4L559.3,240.7 M558.5,235.4L561,239.8 M560.2,234.5L562.8,238.8 M561.9,233.6L564.5,237.9 M563.7,232.6L566.3,237 M565.4,231.7L568,236 M567.1,230.7L569.7,235.1 M568.9,229.8L571.5,234.1 M570.6,228.9L573.2,233.2 M572.4,227.9L575,232.3 M574.1,227L576.7,231.3 M575.8,226.1L578.4,230.4 M577.6,225.1L580.2,229.5 M579.3,224.2L581.9,228.5 M581,223.3L583.6,227.6 M582.8,222.3L585.4,226.6 M584.5,221.4L587.1,225.7 M586.3,220.5L588.9,224.8 M588,219.5L590.6,223.8 M589.7,218.6L592.3,222.9 M591.5,217.7L594.1,222 M593.2,216.7L595.8,221" fill="none" stroke="#242424" stroke-width="0.87" />
<path d="M416.5,269.7L562.3,192.3 M429.9,281.3L575.7,203.4 M431.8,283L577.7,205 M444.5,294L590.4,215.5 M446.4,295.7L592.4,217.1 M450.6,299.3L596.6,220.6" fill="none" stroke="#333" stroke-width="0.5" />
<path d="M325.4,376.8 C320.6,379 318.6,388 320.6,400 C323,414 333,426 348,432.2" fill="none" stroke="#262626" stroke-width="0.73" />
<path d="M325.4,376.8 L328.6,374.6 L331.4,376.6 L347.6,376.2 L350.6,374.2 L361.6,378.6 L368.4,382.4 L374,386.4" fill="none" stroke="#262626" stroke-width="0.73" />
<path d="M333.8,390.8 C333.6,402 343,418 356.4,427.4" fill="none" stroke="#262626" stroke-width="0.67" />
<path d="M333.8,390.8 C338,385.6 354,386.6 368,392.2 L372.2,394.6" fill="none" stroke="#262626" stroke-width="0.67" />
<line x1="372.4" y1="386.8" x2="372.4" y2="395.0" stroke="#262626" stroke-width="0.67" />
<line x1="367.6" y1="395.6" x2="370.2" y2="416.0" stroke="#262626" stroke-width="0.56" stroke-dasharray="3 1.5"/>
<circle cx="375.6" cy="399.0" r="1.1" fill="none" stroke="#262626" stroke-width="0.5"/>
<circle cx="384.6" cy="411.4" r="1.0" fill="none" stroke="#262626" stroke-width="0.5"/>
<path d="M374.3,386.4 L425.7,416.4 L425.7,419.4 L374.3,389.4 Z" fill="#fff" stroke="#222" stroke-width="0.78" />
<line x1="282.5" y1="496.3" x2="427.5" y2="417.4" stroke="#262626" stroke-width="0.78" />
<line x1="283.5" y1="498.3" x2="427.0" y2="420.2" stroke="#262626" stroke-width="0.67" />
<line x1="266.4" y1="478.2" x2="404.0" y2="402.8" stroke="#262626" stroke-width="0.62" />
<path d="M403.3,440.0 L403.3,469.2 L410.3,473.0 L414.1,481.3 L417.3,483.8 L421.1,481.6" fill="none" stroke="#262626" stroke-width="0.67" />
<path d="M427.6,418.8 L431.3,417.8 L431.4,420.6 L423.9,479.6 L421.1,481.6 L421.6,470.0 Z" fill="#fff" stroke="#262626" stroke-width="0.73" />
<line x1="429.6" y1="420.0" x2="422.6" y2="480.0" stroke="#262626" stroke-width="0.5" />
<circle cx="429.6" cy="422.6" r="0.8" fill="none" stroke="#262626" stroke-width="0.45"/>
<circle cx="425.6" cy="450.0" r="0.8" fill="none" stroke="#262626" stroke-width="0.45"/>
<circle cx="422.8" cy="476.6" r="0.8" fill="none" stroke="#262626" stroke-width="0.45"/>
<path d="M283.4,503.6 L420.5,429.4 L420.6,444.2 L283.6,518.4 Z" fill="#d4d4d4" stroke="#999" stroke-width="0.11" />
<path d="M283.4,503.6L420.5,429.4 M283.4,505.5L420.5,431.2 M283.4,507.3L420.5,433.1 M283.5,509.1L420.5,434.9 M283.5,511L420.6,436.8 M283.5,512.9L420.6,438.6 M283.6,514.7L420.6,440.5 M283.6,516.5L420.6,442.3 M283.6,518.4L420.6,444.2" fill="none" stroke="#262626" stroke-width="0.9" />
<path d="M303,490.7 Q305.9,500.1 304.3,507.5" fill="none" stroke="#222" stroke-width="0.9" />
<path d="M326,478.3 Q328.9,487.7 327.3,495.1" fill="none" stroke="#222" stroke-width="0.9" />
<path d="M349.8,465.4 Q352.7,474.8 351.1,482.2" fill="none" stroke="#222" stroke-width="0.9" />
<path d="M372.8,452.9 Q375.7,462.3 374,469.7" fill="none" stroke="#222" stroke-width="0.9" />
<path d="M396.6,440.1 Q399.5,449.5 397.8,456.9" fill="none" stroke="#222" stroke-width="0.9" />
<line x1="282.0" y1="539.5" x2="403.0" y2="472.4" stroke="#262626" stroke-width="0.67" />
<line x1="276.0" y1="563.0" x2="281.6" y2="540.0" stroke="#262626" stroke-width="0.45" />
<line x1="283.0" y1="528.4" x2="403.0" y2="464.6" stroke="#262626" stroke-width="0.62" />
<line x1="284.0" y1="500.4" x2="420.4" y2="427.8" stroke="#262626" stroke-width="0.56" />
<circle cx="318.0" cy="484.8" r="0.7" fill="#333"/>
<circle cx="412.6" cy="433.2" r="0.7" fill="#333"/>
<circle cx="357.6" cy="497.3" r="0.6" fill="#333"/>
<circle cx="309.7" cy="524.3" r="0.6" fill="#333"/>
<circle cx="319.0" cy="478.6" r="1.1" fill="none" stroke="#262626" stroke-width="0.45"/>
<circle cx="404.2" cy="432.4" r="1.1" fill="none" stroke="#262626" stroke-width="0.45"/>
<path d="M221.2,461.0 L229.2,458.0 L275.8,485.2 L277.4,488.4 L281.8,490.6 L283.8,497.4 L280.0,498.6" fill="none" stroke="#262626" stroke-width="0.67" />
<path d="M221.2,461.0 L223.4,490.0 L225.6,505.0 L228.8,507.4 L228.4,523.6 L226.2,524.4 L227.6,536.0 L229.6,534.4 L233.6,538.6 L236.6,536.4 L261.8,555.2 L268.6,550.6 L272.0,561.4" fill="none" stroke="#262626" stroke-width="0.67" stroke-dasharray="5 1.2"/>
<path d="M279.6,498.8 L284.2,497.4 L276.6,562.8 L272.0,561.4 Z" fill="#fff" stroke="#262626" stroke-width="0.73" />
<line x1="281.4" y1="499.4" x2="274.0" y2="562.0" stroke="#262626" stroke-width="0.5" />
<circle cx="281.8" cy="501.4" r="0.9" fill="none" stroke="#262626" stroke-width="0.45"/>
<circle cx="279.0" cy="528.6" r="0.9" fill="none" stroke="#262626" stroke-width="0.45"/>
<circle cx="275.0" cy="559.2" r="0.9" fill="none" stroke="#262626" stroke-width="0.45"/>
<path d="M258.4,497.6 A12.2,13.4 0 1 0 270,520.4 L279,524.6" fill="none" stroke="#262626" stroke-width="0.67" />
<path d="M258.4,497.6 L265.4,495.8 C272,496 277,500 280,506" fill="none" stroke="#262626" stroke-width="0.67" />
<ellipse cx="265.4" cy="508.2" rx="4.4" ry="5.4" fill="none" stroke="#262626" stroke-width="0.6" transform="rotate(8 265.4 508.2)"/>
<circle cx="227.8" cy="466.8" r="0.6" fill="#333"/>
<circle cx="226.4" cy="479.0" r="0.6" fill="#333"/>
<circle cx="229.0" cy="492.6" r="0.6" fill="#333"/>
<circle cx="236.0" cy="468.6" r="0.6" fill="#333"/>
<circle cx="246.0" cy="506.8" r="0.6" fill="#333"/>
<circle cx="241.2" cy="527.0" r="0.6" fill="#333"/>
<circle cx="246.6" cy="540.0" r="0.6" fill="#333"/>
<circle cx="258.4" cy="537.6" r="0.6" fill="#333"/>
<circle cx="252.2" cy="489.8" r="0.6" fill="#333"/>
<circle cx="234.2" cy="516.4" r="0.6" fill="#333"/>
<circle cx="237.0" cy="531.6" r="0.6" fill="#333"/>
<circle cx="262.0" cy="544.4" r="0.6" fill="#333"/>
<circle cx="267.6" cy="534.0" r="0.6" fill="#333"/>
<path d="M403.0,370.0 L424.2,360.6 L431.4,368.6 L430.0,372.0 L405.2,379.6 Z" fill="#fff" stroke="#262626" stroke-width="0.67" />
<path d="M405.2,369L410.5,377.7 M406.9,368.3L412.2,377.2 M408.6,367.6L413.9,376.6 M410.3,366.9L415.7,376.1 M412,366.2L417.4,375.5 M413.7,365.5L419.1,375 M415.3,364.7L420.9,374.4 M417,364L422.6,373.9 M418.7,363.3L424.3,373.3 M420.4,362.6L426.1,372.8 M422.1,361.9L427.8,372.2 M423.8,361.2L429.5,371.7" fill="none" stroke="#222" stroke-width="1.06" />
<line x1="403.0" y1="370.0" x2="424.2" y2="360.6" stroke="#222" stroke-width="1.79" />
<path d="M403,370 L405.2,379.6 L409.6,378 M394.6,380.4 L402,385 L411,381.6 M402,385 l-4,2" fill="none" stroke="#262626" stroke-width="0.62" />
<path d="M431.4,368.6 l2.2,-1.4 l-0.8,-2.6" fill="none" stroke="#262626" stroke-width="0.56" />
<path d="M409.9,392.4 L421.1,399.8 L421.1,418 M421.1,399.8 L404,404.6 M415.4,381.2 L405.4,400.4" fill="none" stroke="#262626" stroke-width="0.56" />
<path d="M451.7,390.6 L467.2,384.9 C474,385.6 479.6,392 479.8,400 C479.8,404 478.4,407 476,408.8 L462.2,416.8" fill="#fff" stroke="#262626" stroke-width="0.73" />
<path d="M467.2,384.9 C463.6,388.6 461.8,398 464.4,409" fill="none" stroke="#262626" stroke-width="0.5" />
<line x1="476.0" y1="408.8" x2="482.0" y2="406.0" stroke="#262626" stroke-width="0.62" />
<path d="M453.4,386.6 l3.4,-2.6 l2.6,1.4 l-3.2,2.8 z M456.8,384 l5.4,-3 M459.4,385.4 l7.6,-3.8" fill="none" stroke="#262626" stroke-width="0.62" />
<path d="M430.8,378.8 L454.8,393.4 L459.8,404.8 L461.0,416.0 L458.4,422.6 L449.0,426.4 L431.0,415.6 Z" fill="#fff" stroke="#262626" stroke-width="0.78" />
<ellipse cx="447.6" cy="408.4" rx="7.4" ry="9.4" fill="none" stroke="#262626" stroke-width="0.6" transform="rotate(-32 447.6 408.4)"/>
<path d="M442.2,411.2 L450.6,406.6" fill="none" stroke="#333" stroke-width="1.79" />
<circle cx="443.6" cy="410.8" r="1.7" fill="#fff" stroke="#262626" stroke-width="0.5"/>
<circle cx="448.6" cy="399.8" r="0.9" fill="none" stroke="#262626" stroke-width="0.5"/>
<circle cx="456.4" cy="413.6" r="0.9" fill="none" stroke="#262626" stroke-width="0.5"/>
<circle cx="448.6" cy="417.6" r="0.9" fill="none" stroke="#262626" stroke-width="0.5"/>
<circle cx="433.2" cy="403.6" r="0.9" fill="none" stroke="#262626" stroke-width="0.5"/>
<circle cx="455.0" cy="393.8" r="0.9" fill="none" stroke="#262626" stroke-width="0.5"/>
<circle cx="448.4" cy="425.2" r="0.9" fill="none" stroke="#262626" stroke-width="0.5"/>
<circle cx="432.0" cy="380.6" r="0.6" fill="#333"/>
<circle cx="431.8" cy="414.4" r="0.6" fill="#333"/>
<circle cx="440.6" cy="402.4" r="0.7" fill="#333"/>
<path d="M342.8,535.7A0.9,2.4 0 0 1 342.8,540.5M344.3,534.8A0.9,2.4 0 0 1 344.3,539.7M345.9,534A0.9,2.4 0 0 1 345.9,538.8M347.4,533.1A0.9,2.4 0 0 1 347.4,538M349,532.3A0.9,2.4 0 0 1 349,537.1M350.5,531.4A0.9,2.4 0 0 1 350.5,536.3M352,530.6A0.9,2.4 0 0 1 352,535.4M353.6,529.7A0.9,2.4 0 0 1 353.6,534.5M355.1,528.8A0.9,2.4 0 0 1 355.1,533.7M356.6,528A0.9,2.4 0 0 1 356.6,532.8M358.2,527.1A0.9,2.4 0 0 1 358.2,532M359.7,526.3A0.9,2.4 0 0 1 359.7,531.1M361.3,525.4A0.9,2.4 0 0 1 361.3,530.3M362.8,524.6A0.9,2.4 0 0 1 362.8,529.4M364.3,523.7A0.9,2.4 0 0 1 364.3,528.5M365.9,522.8A0.9,2.4 0 0 1 365.9,527.7M367.4,522A0.9,2.4 0 0 1 367.4,526.8M369,521.1A0.9,2.4 0 0 1 369,526M370.5,520.3A0.9,2.4 0 0 1 370.5,525.1M372,519.4A0.9,2.4 0 0 1 372,524.2M373.6,518.6A0.9,2.4 0 0 1 373.6,523.4M375.1,517.7A0.9,2.4 0 0 1 375.1,522.5M376.6,516.9A0.9,2.4 0 0 1 376.6,521.7M378.2,516A0.9,2.4 0 0 1 378.2,520.8M379.7,515.1A0.9,2.4 0 0 1 379.7,520M381.3,514.3A0.9,2.4 0 0 1 381.3,519.1M382.8,513.4A0.9,2.4 0 0 1 382.8,518.2M384.3,512.6A0.9,2.4 0 0 1 384.3,517.4M385.9,511.7A0.9,2.4 0 0 1 385.9,516.5M387.4,510.9A0.9,2.4 0 0 1 387.4,515.7M389,510A0.9,2.4 0 0 1 389,514.8M390.5,509.1A0.9,2.4 0 0 1 390.5,514M392,508.3A0.9,2.4 0 0 1 392,513.1M393.6,507.4A0.9,2.4 0 0 1 393.6,512.2M395.1,506.6A0.9,2.4 0 0 1 395.1,511.4M396.7,505.7A0.9,2.4 0 0 1 396.7,510.5M398.2,504.9A0.9,2.4 0 0 1 398.2,509.7M399.7,504A0.9,2.4 0 0 1 399.7,508.8M401.3,503.1A0.9,2.4 0 0 1 401.3,508M402.8,502.3A0.9,2.4 0 0 1 402.8,507.1M404.3,501.4A0.9,2.4 0 0 1 404.3,506.2M405.9,500.6A0.9,2.4 0 0 1 405.9,505.4M407.4,499.7A0.9,2.4 0 0 1 407.4,504.5M409,498.9A0.9,2.4 0 0 1 409,503.7M410.5,498A0.9,2.4 0 0 1 410.5,502.8M412,497.1A0.9,2.4 0 0 1 412,501.9M413.6,496.3A0.9,2.4 0 0 1 413.6,501.1M415.1,495.4A0.9,2.4 0 0 1 415.1,500.2M416.7,494.6A0.9,2.4 0 0 1 416.7,499.4M418.2,493.7A0.9,2.4 0 0 1 418.2,498.5M419.7,492.9A0.9,2.4 0 0 1 419.7,497.7M421.3,492A0.9,2.4 0 0 1 421.3,496.8M422.8,491.1A0.9,2.4 0 0 1 422.8,495.9M424.3,490.3A0.9,2.4 0 0 1 424.3,495.1M425.9,489.4A0.9,2.4 0 0 1 425.9,494.2M427.4,488.6A0.9,2.4 0 0 1 427.4,493.4M429,487.7A0.9,2.4 0 0 1 429,492.5M430.5,486.9A0.9,2.4 0 0 1 430.5,491.7M432,486A0.9,2.4 0 0 1 432,490.8M433.6,485.1A0.9,2.4 0 0 1 433.6,489.9M435.1,484.3A0.9,2.4 0 0 1 435.1,489.1M436.7,483.4A0.9,2.4 0 0 1 436.7,488.2M438.2,482.6A0.9,2.4 0 0 1 438.2,487.4M439.7,481.7A0.9,2.4 0 0 1 439.7,486.5M441.3,480.9A0.9,2.4 0 0 1 441.3,485.6M442.8,480A0.9,2.4 0 0 1 442.8,484.8M444.4,479.2A0.9,2.4 0 0 1 444.4,483.9M445.9,478.3A0.9,2.4 0 0 1 445.9,483.1M447.4,477.4A0.9,2.4 0 0 1 447.4,482.2M449,476.6A0.9,2.4 0 0 1 449,481.4M450.5,475.7A0.9,2.4 0 0 1 450.5,480.5M452,474.9A0.9,2.4 0 0 1 452,479.6M453.6,474A0.9,2.4 0 0 1 453.6,478.8M455.1,473.2A0.9,2.4 0 0 1 455.1,477.9M456.7,472.3A0.9,2.4 0 0 1 456.7,477.1M458.2,471.4A0.9,2.4 0 0 1 458.2,476.2M459.7,470.6A0.9,2.4 0 0 1 459.7,475.4M461.3,469.7A0.9,2.4 0 0 1 461.3,474.5M462.8,468.9A0.9,2.4 0 0 1 462.8,473.6M464.4,468A0.9,2.4 0 0 1 464.4,472.8M465.9,467.2A0.9,2.4 0 0 1 465.9,471.9M467.4,466.3A0.9,2.4 0 0 1 467.4,471.1M469,465.4A0.9,2.4 0 0 1 469,470.2M470.5,464.6A0.9,2.4 0 0 1 470.5,469.4M472,463.7A0.9,2.4 0 0 1 472,468.5M473.6,462.9A0.9,2.4 0 0 1 473.6,467.6M475.1,462A0.9,2.4 0 0 1 475.1,466.8M476.7,461.2A0.9,2.4 0 0 1 476.7,465.9M478.2,460.3A0.9,2.4 0 0 1 478.2,465.1M342.8,541.9A0.9,2.4 0 0 1 342.8,546.8M344.3,541.1A0.9,2.4 0 0 1 344.3,545.9M345.9,540.2A0.9,2.4 0 0 1 345.9,545M347.4,539.3A0.9,2.4 0 0 1 347.4,544.2M349,538.5A0.9,2.4 0 0 1 349,543.3M350.5,537.6A0.9,2.4 0 0 1 350.5,542.5M352,536.8A0.9,2.4 0 0 1 352,541.6M353.6,535.9A0.9,2.4 0 0 1 353.6,540.7M355.1,535A0.9,2.4 0 0 1 355.1,539.9M356.6,534.2A0.9,2.4 0 0 1 356.6,539M358.2,533.3A0.9,2.4 0 0 1 358.2,538.2M359.7,532.5A0.9,2.4 0 0 1 359.7,537.3M361.3,531.6A0.9,2.4 0 0 1 361.3,536.4M362.8,530.8A0.9,2.4 0 0 1 362.8,535.6M364.3,529.9A0.9,2.4 0 0 1 364.3,534.7M365.9,529A0.9,2.4 0 0 1 365.9,533.9M367.4,528.2A0.9,2.4 0 0 1 367.4,533M369,527.3A0.9,2.4 0 0 1 369,532.2M370.5,526.5A0.9,2.4 0 0 1 370.5,531.3M372,525.6A0.9,2.4 0 0 1 372,530.4M373.6,524.8A0.9,2.4 0 0 1 373.6,529.6M375.1,523.9A0.9,2.4 0 0 1 375.1,528.7M376.6,523A0.9,2.4 0 0 1 376.6,527.9M378.2,522.2A0.9,2.4 0 0 1 378.2,527M379.7,521.3A0.9,2.4 0 0 1 379.7,526.1M381.3,520.5A0.9,2.4 0 0 1 381.3,525.3M382.8,519.6A0.9,2.4 0 0 1 382.8,524.4M384.3,518.7A0.9,2.4 0 0 1 384.3,523.6M385.9,517.9A0.9,2.4 0 0 1 385.9,522.7M387.4,517A0.9,2.4 0 0 1 387.4,521.8M389,516.2A0.9,2.4 0 0 1 389,521M390.5,515.3A0.9,2.4 0 0 1 390.5,520.1M392,514.5A0.9,2.4 0 0 1 392,519.3M393.6,513.6A0.9,2.4 0 0 1 393.6,518.4M395.1,512.7A0.9,2.4 0 0 1 395.1,517.6M396.7,511.9A0.9,2.4 0 0 1 396.7,516.7M398.2,511A0.9,2.4 0 0 1 398.2,515.8M399.7,510.2A0.9,2.4 0 0 1 399.7,515M401.3,509.3A0.9,2.4 0 0 1 401.3,514.1M402.8,508.4A0.9,2.4 0 0 1 402.8,513.3M404.3,507.6A0.9,2.4 0 0 1 404.3,512.4M405.9,506.7A0.9,2.4 0 0 1 405.9,511.5M407.4,505.9A0.9,2.4 0 0 1 407.4,510.7M409,505A0.9,2.4 0 0 1 409,509.8M410.5,504.2A0.9,2.4 0 0 1 410.5,509M412,503.3A0.9,2.4 0 0 1 412,508.1M413.6,502.4A0.9,2.4 0 0 1 413.6,507.2M415.1,501.6A0.9,2.4 0 0 1 415.1,506.4M416.7,500.7A0.9,2.4 0 0 1 416.7,505.5M418.2,499.9A0.9,2.4 0 0 1 418.2,504.7M419.7,499A0.9,2.4 0 0 1 419.7,503.8M421.3,498.2A0.9,2.4 0 0 1 421.3,503M422.8,497.3A0.9,2.4 0 0 1 422.8,502.1M424.3,496.4A0.9,2.4 0 0 1 424.3,501.2M425.9,495.6A0.9,2.4 0 0 1 425.9,500.4M427.4,494.7A0.9,2.4 0 0 1 427.4,499.5M429,493.9A0.9,2.4 0 0 1 429,498.7M430.5,493A0.9,2.4 0 0 1 430.5,497.8M432,492.1A0.9,2.4 0 0 1 432,496.9M433.6,491.3A0.9,2.4 0 0 1 433.6,496.1M435.1,490.4A0.9,2.4 0 0 1 435.1,495.2M436.7,489.6A0.9,2.4 0 0 1 436.7,494.4M438.2,488.7A0.9,2.4 0 0 1 438.2,493.5M439.7,487.9A0.9,2.4 0 0 1 439.7,492.6M441.3,487A0.9,2.4 0 0 1 441.3,491.8M442.8,486.1A0.9,2.4 0 0 1 442.8,490.9M444.4,485.3A0.9,2.4 0 0 1 444.4,490.1M445.9,484.4A0.9,2.4 0 0 1 445.9,489.2M447.4,483.6A0.9,2.4 0 0 1 447.4,488.3M449,482.7A0.9,2.4 0 0 1 449,487.5M450.5,481.9A0.9,2.4 0 0 1 450.5,486.6M452,481A0.9,2.4 0 0 1 452,485.8M453.6,480.1A0.9,2.4 0 0 1 453.6,484.9M455.1,479.3A0.9,2.4 0 0 1 455.1,484.1M456.7,478.4A0.9,2.4 0 0 1 456.7,483.2M458.2,477.6A0.9,2.4 0 0 1 458.2,482.3M459.7,476.7A0.9,2.4 0 0 1 459.7,481.5M461.3,475.8A0.9,2.4 0 0 1 461.3,480.6M462.8,475A0.9,2.4 0 0 1 462.8,479.8M464.4,474.1A0.9,2.4 0 0 1 464.4,478.9M465.9,473.3A0.9,2.4 0 0 1 465.9,478M467.4,472.4A0.9,2.4 0 0 1 467.4,477.2M469,471.6A0.9,2.4 0 0 1 469,476.3M470.5,470.7A0.9,2.4 0 0 1 470.5,475.5M472,469.8A0.9,2.4 0 0 1 472,474.6M473.6,469A0.9,2.4 0 0 1 473.6,473.7M475.1,468.1A0.9,2.4 0 0 1 475.1,472.9M476.7,467.3A0.9,2.4 0 0 1 476.7,472M478.2,466.4A0.9,2.4 0 0 1 478.2,471.2M342.8,548.1A0.9,2.4 0 0 1 342.8,553M344.3,547.3A0.9,2.4 0 0 1 344.3,552.1M345.9,546.4A0.9,2.4 0 0 1 345.9,551.2M347.4,545.5A0.9,2.4 0 0 1 347.4,550.4M349,544.7A0.9,2.4 0 0 1 349,549.5M350.5,543.8A0.9,2.4 0 0 1 350.5,548.7M352,543A0.9,2.4 0 0 1 352,547.8M353.6,542.1A0.9,2.4 0 0 1 353.6,546.9M355.1,541.2A0.9,2.4 0 0 1 355.1,546.1M356.6,540.4A0.9,2.4 0 0 1 356.6,545.2M358.2,539.5A0.9,2.4 0 0 1 358.2,544.4M359.7,538.7A0.9,2.4 0 0 1 359.7,543.5M361.3,537.8A0.9,2.4 0 0 1 361.3,542.6M362.8,537A0.9,2.4 0 0 1 362.8,541.8M364.3,536.1A0.9,2.4 0 0 1 364.3,540.9M365.9,535.2A0.9,2.4 0 0 1 365.9,540.1M367.4,534.4A0.9,2.4 0 0 1 367.4,539.2M369,533.5A0.9,2.4 0 0 1 369,538.3M370.5,532.7A0.9,2.4 0 0 1 370.5,537.5M372,531.8A0.9,2.4 0 0 1 372,536.6M373.6,530.9A0.9,2.4 0 0 1 373.6,535.8M375.1,530.1A0.9,2.4 0 0 1 375.1,534.9M376.6,529.2A0.9,2.4 0 0 1 376.6,534M378.2,528.4A0.9,2.4 0 0 1 378.2,533.2M379.7,527.5A0.9,2.4 0 0 1 379.7,532.3M381.3,526.6A0.9,2.4 0 0 1 381.3,531.5M382.8,525.8A0.9,2.4 0 0 1 382.8,530.6M384.3,524.9A0.9,2.4 0 0 1 384.3,529.7M385.9,524.1A0.9,2.4 0 0 1 385.9,528.9M387.4,523.2A0.9,2.4 0 0 1 387.4,528M389,522.3A0.9,2.4 0 0 1 389,527.2M390.5,521.5A0.9,2.4 0 0 1 390.5,526.3M392,520.6A0.9,2.4 0 0 1 392,525.4M393.6,519.8A0.9,2.4 0 0 1 393.6,524.6M395.1,518.9A0.9,2.4 0 0 1 395.1,523.7M396.7,518.1A0.9,2.4 0 0 1 396.7,522.9M398.2,517.2A0.9,2.4 0 0 1 398.2,522M399.7,516.3A0.9,2.4 0 0 1 399.7,521.1M401.3,515.5A0.9,2.4 0 0 1 401.3,520.3M402.8,514.6A0.9,2.4 0 0 1 402.8,519.4M404.3,513.8A0.9,2.4 0 0 1 404.3,518.6M405.9,512.9A0.9,2.4 0 0 1 405.9,517.7M407.4,512A0.9,2.4 0 0 1 407.4,516.8M409,511.2A0.9,2.4 0 0 1 409,516M410.5,510.3A0.9,2.4 0 0 1 410.5,515.1M412,509.5A0.9,2.4 0 0 1 412,514.3M413.6,508.6A0.9,2.4 0 0 1 413.6,513.4M415.1,507.7A0.9,2.4 0 0 1 415.1,512.5M416.7,506.9A0.9,2.4 0 0 1 416.7,511.7M418.2,506A0.9,2.4 0 0 1 418.2,510.8M419.7,505.2A0.9,2.4 0 0 1 419.7,510M421.3,504.3A0.9,2.4 0 0 1 421.3,509.1M422.8,503.4A0.9,2.4 0 0 1 422.8,508.2M424.3,502.6A0.9,2.4 0 0 1 424.3,507.4M425.9,501.7A0.9,2.4 0 0 1 425.9,506.5M427.4,500.9A0.9,2.4 0 0 1 427.4,505.7M429,500A0.9,2.4 0 0 1 429,504.8M430.5,499.1A0.9,2.4 0 0 1 430.5,503.9M432,498.3A0.9,2.4 0 0 1 432,503.1M433.6,497.4A0.9,2.4 0 0 1 433.6,502.2M435.1,496.6A0.9,2.4 0 0 1 435.1,501.4M436.7,495.7A0.9,2.4 0 0 1 436.7,500.5M438.2,494.9A0.9,2.4 0 0 1 438.2,499.6M439.7,494A0.9,2.4 0 0 1 439.7,498.8M441.3,493.1A0.9,2.4 0 0 1 441.3,497.9M442.8,492.3A0.9,2.4 0 0 1 442.8,497.1M444.4,491.4A0.9,2.4 0 0 1 444.4,496.2M445.9,490.6A0.9,2.4 0 0 1 445.9,495.3M447.4,489.7A0.9,2.4 0 0 1 447.4,494.5M449,488.8A0.9,2.4 0 0 1 449,493.6M450.5,488A0.9,2.4 0 0 1 450.5,492.8M452,487.1A0.9,2.4 0 0 1 452,491.9M453.6,486.3A0.9,2.4 0 0 1 453.6,491M455.1,485.4A0.9,2.4 0 0 1 455.1,490.2M456.7,484.5A0.9,2.4 0 0 1 456.7,489.3M458.2,483.7A0.9,2.4 0 0 1 458.2,488.5M459.7,482.8A0.9,2.4 0 0 1 459.7,487.6M461.3,482A0.9,2.4 0 0 1 461.3,486.7M462.8,481.1A0.9,2.4 0 0 1 462.8,485.9M464.4,480.2A0.9,2.4 0 0 1 464.4,485M465.9,479.4A0.9,2.4 0 0 1 465.9,484.2M467.4,478.5A0.9,2.4 0 0 1 467.4,483.3M469,477.7A0.9,2.4 0 0 1 469,482.4M470.5,476.8A0.9,2.4 0 0 1 470.5,481.6M472,476A0.9,2.4 0 0 1 472,480.7M473.6,475.1A0.9,2.4 0 0 1 473.6,479.9M475.1,474.2A0.9,2.4 0 0 1 475.1,479M476.7,473.4A0.9,2.4 0 0 1 476.7,478.1M478.2,472.5A0.9,2.4 0 0 1 478.2,477.3M342.8,554.3A0.9,2.4 0 0 1 342.8,559.2M344.3,553.5A0.9,2.4 0 0 1 344.3,558.3M345.9,552.6A0.9,2.4 0 0 1 345.9,557.5M347.4,551.8A0.9,2.4 0 0 1 347.4,556.6M349,550.9A0.9,2.4 0 0 1 349,555.7M350.5,550A0.9,2.4 0 0 1 350.5,554.9M352,549.2A0.9,2.4 0 0 1 352,554M353.6,548.3A0.9,2.4 0 0 1 353.6,553.1M355.1,547.5A0.9,2.4 0 0 1 355.1,552.3M356.6,546.6A0.9,2.4 0 0 1 356.6,551.4M358.2,545.7A0.9,2.4 0 0 1 358.2,550.6M359.7,544.9A0.9,2.4 0 0 1 359.7,549.7M361.3,544A0.9,2.4 0 0 1 361.3,548.8M362.8,543.1A0.9,2.4 0 0 1 362.8,548M364.3,542.3A0.9,2.4 0 0 1 364.3,547.1M365.9,541.4A0.9,2.4 0 0 1 365.9,546.3M367.4,540.6A0.9,2.4 0 0 1 367.4,545.4M369,539.7A0.9,2.4 0 0 1 369,544.5M370.5,538.8A0.9,2.4 0 0 1 370.5,543.7M372,538A0.9,2.4 0 0 1 372,542.8M373.6,537.1A0.9,2.4 0 0 1 373.6,542M375.1,536.3A0.9,2.4 0 0 1 375.1,541.1M376.6,535.4A0.9,2.4 0 0 1 376.6,540.2M378.2,534.5A0.9,2.4 0 0 1 378.2,539.4M379.7,533.7A0.9,2.4 0 0 1 379.7,538.5M381.3,532.8A0.9,2.4 0 0 1 381.3,537.6M382.8,532A0.9,2.4 0 0 1 382.8,536.8M384.3,531.1A0.9,2.4 0 0 1 384.3,535.9M385.9,530.2A0.9,2.4 0 0 1 385.9,535.1M387.4,529.4A0.9,2.4 0 0 1 387.4,534.2M389,528.5A0.9,2.4 0 0 1 389,533.3M390.5,527.7A0.9,2.4 0 0 1 390.5,532.5M392,526.8A0.9,2.4 0 0 1 392,531.6M393.6,525.9A0.9,2.4 0 0 1 393.6,530.8M395.1,525.1A0.9,2.4 0 0 1 395.1,529.9M396.7,524.2A0.9,2.4 0 0 1 396.7,529M398.2,523.4A0.9,2.4 0 0 1 398.2,528.2M399.7,522.5A0.9,2.4 0 0 1 399.7,527.3M401.3,521.6A0.9,2.4 0 0 1 401.3,526.4M402.8,520.8A0.9,2.4 0 0 1 402.8,525.6M404.3,519.9A0.9,2.4 0 0 1 404.3,524.7M405.9,519.1A0.9,2.4 0 0 1 405.9,523.9M407.4,518.2A0.9,2.4 0 0 1 407.4,523M409,517.3A0.9,2.4 0 0 1 409,522.1M410.5,516.5A0.9,2.4 0 0 1 410.5,521.3M412,515.6A0.9,2.4 0 0 1 412,520.4M413.6,514.8A0.9,2.4 0 0 1 413.6,519.6M415.1,513.9A0.9,2.4 0 0 1 415.1,518.7M416.7,513A0.9,2.4 0 0 1 416.7,517.8M418.2,512.2A0.9,2.4 0 0 1 418.2,517M419.7,511.3A0.9,2.4 0 0 1 419.7,516.1M421.3,510.5A0.9,2.4 0 0 1 421.3,515.3M422.8,509.6A0.9,2.4 0 0 1 422.8,514.4M424.3,508.7A0.9,2.4 0 0 1 424.3,513.5M425.9,507.9A0.9,2.4 0 0 1 425.9,512.7M427.4,507A0.9,2.4 0 0 1 427.4,511.8M429,506.2A0.9,2.4 0 0 1 429,510.9M430.5,505.3A0.9,2.4 0 0 1 430.5,510.1M432,504.4A0.9,2.4 0 0 1 432,509.2M433.6,503.6A0.9,2.4 0 0 1 433.6,508.4M435.1,502.7A0.9,2.4 0 0 1 435.1,507.5M436.7,501.9A0.9,2.4 0 0 1 436.7,506.6M438.2,501A0.9,2.4 0 0 1 438.2,505.8M439.7,500.1A0.9,2.4 0 0 1 439.7,504.9M441.3,499.3A0.9,2.4 0 0 1 441.3,504.1M442.8,498.4A0.9,2.4 0 0 1 442.8,503.2M444.4,497.5A0.9,2.4 0 0 1 444.4,502.3M445.9,496.7A0.9,2.4 0 0 1 445.9,501.5M447.4,495.8A0.9,2.4 0 0 1 447.4,500.6M449,495A0.9,2.4 0 0 1 449,499.7M450.5,494.1A0.9,2.4 0 0 1 450.5,498.9M452,493.2A0.9,2.4 0 0 1 452,498M453.6,492.4A0.9,2.4 0 0 1 453.6,497.2M455.1,491.5A0.9,2.4 0 0 1 455.1,496.3M456.7,490.7A0.9,2.4 0 0 1 456.7,495.4M458.2,489.8A0.9,2.4 0 0 1 458.2,494.6M459.7,488.9A0.9,2.4 0 0 1 459.7,493.7M461.3,488.1A0.9,2.4 0 0 1 461.3,492.9M462.8,487.2A0.9,2.4 0 0 1 462.8,492M464.4,486.4A0.9,2.4 0 0 1 464.4,491.1M465.9,485.5A0.9,2.4 0 0 1 465.9,490.3M467.4,484.6A0.9,2.4 0 0 1 467.4,489.4M469,483.8A0.9,2.4 0 0 1 469,488.6M470.5,482.9A0.9,2.4 0 0 1 470.5,487.7M472,482.1A0.9,2.4 0 0 1 472,486.8M473.6,481.2A0.9,2.4 0 0 1 473.6,486M475.1,480.3A0.9,2.4 0 0 1 475.1,485.1M476.7,479.5A0.9,2.4 0 0 1 476.7,484.2M478.2,478.6A0.9,2.4 0 0 1 478.2,483.4M342.8,560.5A0.9,2.4 0 0 1 342.8,565.4M344.3,559.7A0.9,2.4 0 0 1 344.3,564.5M345.9,558.8A0.9,2.4 0 0 1 345.9,563.7M347.4,558A0.9,2.4 0 0 1 347.4,562.8M349,557.1A0.9,2.4 0 0 1 349,561.9M350.5,556.2A0.9,2.4 0 0 1 350.5,561.1M352,555.4A0.9,2.4 0 0 1 352,560.2M353.6,554.5A0.9,2.4 0 0 1 353.6,559.4M355.1,553.7A0.9,2.4 0 0 1 355.1,558.5M356.6,552.8A0.9,2.4 0 0 1 356.6,557.6M358.2,551.9A0.9,2.4 0 0 1 358.2,556.8M359.7,551.1A0.9,2.4 0 0 1 359.7,555.9M361.3,550.2A0.9,2.4 0 0 1 361.3,555M362.8,549.3A0.9,2.4 0 0 1 362.8,554.2M364.3,548.5A0.9,2.4 0 0 1 364.3,553.3M365.9,547.6A0.9,2.4 0 0 1 365.9,552.5M367.4,546.8A0.9,2.4 0 0 1 367.4,551.6M369,545.9A0.9,2.4 0 0 1 369,550.7M370.5,545A0.9,2.4 0 0 1 370.5,549.9M372,544.2A0.9,2.4 0 0 1 372,549M373.6,543.3A0.9,2.4 0 0 1 373.6,548.1M375.1,542.5A0.9,2.4 0 0 1 375.1,547.3M376.6,541.6A0.9,2.4 0 0 1 376.6,546.4M378.2,540.7A0.9,2.4 0 0 1 378.2,545.6M379.7,539.9A0.9,2.4 0 0 1 379.7,544.7M381.3,539A0.9,2.4 0 0 1 381.3,543.8M382.8,538.1A0.9,2.4 0 0 1 382.8,543M384.3,537.3A0.9,2.4 0 0 1 384.3,542.1M385.9,536.4A0.9,2.4 0 0 1 385.9,541.2M387.4,535.6A0.9,2.4 0 0 1 387.4,540.4M389,534.7A0.9,2.4 0 0 1 389,539.5M390.5,533.8A0.9,2.4 0 0 1 390.5,538.7M392,533A0.9,2.4 0 0 1 392,537.8M393.6,532.1A0.9,2.4 0 0 1 393.6,536.9M395.1,531.3A0.9,2.4 0 0 1 395.1,536.1M396.7,530.4A0.9,2.4 0 0 1 396.7,535.2M398.2,529.5A0.9,2.4 0 0 1 398.2,534.3M399.7,528.7A0.9,2.4 0 0 1 399.7,533.5M401.3,527.8A0.9,2.4 0 0 1 401.3,532.6M402.8,526.9A0.9,2.4 0 0 1 402.8,531.8M404.3,526.1A0.9,2.4 0 0 1 404.3,530.9M405.9,525.2A0.9,2.4 0 0 1 405.9,530M407.4,524.4A0.9,2.4 0 0 1 407.4,529.2M409,523.5A0.9,2.4 0 0 1 409,528.3M410.5,522.6A0.9,2.4 0 0 1 410.5,527.4M412,521.8A0.9,2.4 0 0 1 412,526.6M413.6,520.9A0.9,2.4 0 0 1 413.6,525.7M415.1,520.1A0.9,2.4 0 0 1 415.1,524.9M416.7,519.2A0.9,2.4 0 0 1 416.7,524M418.2,518.3A0.9,2.4 0 0 1 418.2,523.1M419.7,517.5A0.9,2.4 0 0 1 419.7,522.3M421.3,516.6A0.9,2.4 0 0 1 421.3,521.4M422.8,515.7A0.9,2.4 0 0 1 422.8,520.5M424.3,514.9A0.9,2.4 0 0 1 424.3,519.7M425.9,514A0.9,2.4 0 0 1 425.9,518.8M427.4,513.2A0.9,2.4 0 0 1 427.4,518M429,512.3A0.9,2.4 0 0 1 429,517.1M430.5,511.4A0.9,2.4 0 0 1 430.5,516.2M432,510.6A0.9,2.4 0 0 1 432,515.4M433.6,509.7A0.9,2.4 0 0 1 433.6,514.5M435.1,508.9A0.9,2.4 0 0 1 435.1,513.6M436.7,508A0.9,2.4 0 0 1 436.7,512.8M438.2,507.1A0.9,2.4 0 0 1 438.2,511.9M439.7,506.3A0.9,2.4 0 0 1 439.7,511.1M441.3,505.4A0.9,2.4 0 0 1 441.3,510.2M442.8,504.5A0.9,2.4 0 0 1 442.8,509.3M444.4,503.7A0.9,2.4 0 0 1 444.4,508.5M445.9,502.8A0.9,2.4 0 0 1 445.9,507.6M447.4,502A0.9,2.4 0 0 1 447.4,506.7M449,501.1A0.9,2.4 0 0 1 449,505.9M450.5,500.2A0.9,2.4 0 0 1 450.5,505M452,499.4A0.9,2.4 0 0 1 452,504.2M453.6,498.5A0.9,2.4 0 0 1 453.6,503.3M455.1,497.7A0.9,2.4 0 0 1 455.1,502.4M456.7,496.8A0.9,2.4 0 0 1 456.7,501.6M458.2,495.9A0.9,2.4 0 0 1 458.2,500.7M459.7,495.1A0.9,2.4 0 0 1 459.7,499.8M461.3,494.2A0.9,2.4 0 0 1 461.3,499M462.8,493.3A0.9,2.4 0 0 1 462.8,498.1M464.4,492.5A0.9,2.4 0 0 1 464.4,497.3M465.9,491.6A0.9,2.4 0 0 1 465.9,496.4M467.4,490.8A0.9,2.4 0 0 1 467.4,495.5M469,489.9A0.9,2.4 0 0 1 469,494.7M470.5,489A0.9,2.4 0 0 1 470.5,493.8M472,488.2A0.9,2.4 0 0 1 472,492.9M473.6,487.3A0.9,2.4 0 0 1 473.6,492.1M475.1,486.5A0.9,2.4 0 0 1 475.1,491.2M476.7,485.6A0.9,2.4 0 0 1 476.7,490.4M478.2,484.7A0.9,2.4 0 0 1 478.2,489.5M342.8,566.8A0.9,2.4 0 0 1 342.8,571.6M344.3,565.9A0.9,2.4 0 0 1 344.3,570.7M345.9,565A0.9,2.4 0 0 1 345.9,569.9M347.4,564.2A0.9,2.4 0 0 1 347.4,569M349,563.3A0.9,2.4 0 0 1 349,568.1M350.5,562.4A0.9,2.4 0 0 1 350.5,567.3M352,561.6A0.9,2.4 0 0 1 352,566.4M353.6,560.7A0.9,2.4 0 0 1 353.6,565.6M355.1,559.9A0.9,2.4 0 0 1 355.1,564.7M356.6,559A0.9,2.4 0 0 1 356.6,563.8M358.2,558.1A0.9,2.4 0 0 1 358.2,563M359.7,557.3A0.9,2.4 0 0 1 359.7,562.1M361.3,556.4A0.9,2.4 0 0 1 361.3,561.2M362.8,555.5A0.9,2.4 0 0 1 362.8,560.4M364.3,554.7A0.9,2.4 0 0 1 364.3,559.5M365.9,553.8A0.9,2.4 0 0 1 365.9,558.6M367.4,553A0.9,2.4 0 0 1 367.4,557.8M369,552.1A0.9,2.4 0 0 1 369,556.9M370.5,551.2A0.9,2.4 0 0 1 370.5,556.1M372,550.4A0.9,2.4 0 0 1 372,555.2M373.6,549.5A0.9,2.4 0 0 1 373.6,554.3M375.1,548.6A0.9,2.4 0 0 1 375.1,553.5M376.6,547.8A0.9,2.4 0 0 1 376.6,552.6M378.2,546.9A0.9,2.4 0 0 1 378.2,551.7M379.7,546.1A0.9,2.4 0 0 1 379.7,550.9M381.3,545.2A0.9,2.4 0 0 1 381.3,550M382.8,544.3A0.9,2.4 0 0 1 382.8,549.1M384.3,543.5A0.9,2.4 0 0 1 384.3,548.3M385.9,542.6A0.9,2.4 0 0 1 385.9,547.4M387.4,541.7A0.9,2.4 0 0 1 387.4,546.6M389,540.9A0.9,2.4 0 0 1 389,545.7M390.5,540A0.9,2.4 0 0 1 390.5,544.8M392,539.1A0.9,2.4 0 0 1 392,544M393.6,538.3A0.9,2.4 0 0 1 393.6,543.1M395.1,537.4A0.9,2.4 0 0 1 395.1,542.2M396.7,536.6A0.9,2.4 0 0 1 396.7,541.4M398.2,535.7A0.9,2.4 0 0 1 398.2,540.5M399.7,534.8A0.9,2.4 0 0 1 399.7,539.6M401.3,534A0.9,2.4 0 0 1 401.3,538.8M402.8,533.1A0.9,2.4 0 0 1 402.8,537.9M404.3,532.2A0.9,2.4 0 0 1 404.3,537.1M405.9,531.4A0.9,2.4 0 0 1 405.9,536.2M407.4,530.5A0.9,2.4 0 0 1 407.4,535.3M409,529.7A0.9,2.4 0 0 1 409,534.5M410.5,528.8A0.9,2.4 0 0 1 410.5,533.6M412,527.9A0.9,2.4 0 0 1 412,532.7M413.6,527.1A0.9,2.4 0 0 1 413.6,531.9M415.1,526.2A0.9,2.4 0 0 1 415.1,531M416.7,525.3A0.9,2.4 0 0 1 416.7,530.1M418.2,524.5A0.9,2.4 0 0 1 418.2,529.3M419.7,523.6A0.9,2.4 0 0 1 419.7,528.4M421.3,522.8A0.9,2.4 0 0 1 421.3,527.6M422.8,521.9A0.9,2.4 0 0 1 422.8,526.7M424.3,521A0.9,2.4 0 0 1 424.3,525.8M425.9,520.2A0.9,2.4 0 0 1 425.9,525M427.4,519.3A0.9,2.4 0 0 1 427.4,524.1M429,518.4A0.9,2.4 0 0 1 429,523.2M430.5,517.6A0.9,2.4 0 0 1 430.5,522.4M432,516.7A0.9,2.4 0 0 1 432,521.5M433.6,515.9A0.9,2.4 0 0 1 433.6,520.6M435.1,515A0.9,2.4 0 0 1 435.1,519.8M436.7,514.1A0.9,2.4 0 0 1 436.7,518.9M438.2,513.3A0.9,2.4 0 0 1 438.2,518.1M439.7,512.4A0.9,2.4 0 0 1 439.7,517.2M441.3,511.5A0.9,2.4 0 0 1 441.3,516.3M442.8,510.7A0.9,2.4 0 0 1 442.8,515.5M444.4,509.8A0.9,2.4 0 0 1 444.4,514.6M445.9,509A0.9,2.4 0 0 1 445.9,513.7M447.4,508.1A0.9,2.4 0 0 1 447.4,512.9M449,507.2A0.9,2.4 0 0 1 449,512M450.5,506.4A0.9,2.4 0 0 1 450.5,511.1M452,505.5A0.9,2.4 0 0 1 452,510.3M453.6,504.6A0.9,2.4 0 0 1 453.6,509.4M455.1,503.8A0.9,2.4 0 0 1 455.1,508.6M456.7,502.9A0.9,2.4 0 0 1 456.7,507.7M458.2,502.1A0.9,2.4 0 0 1 458.2,506.8M459.7,501.2A0.9,2.4 0 0 1 459.7,506M461.3,500.3A0.9,2.4 0 0 1 461.3,505.1M462.8,499.5A0.9,2.4 0 0 1 462.8,504.2M464.4,498.6A0.9,2.4 0 0 1 464.4,503.4M465.9,497.7A0.9,2.4 0 0 1 465.9,502.5M467.4,496.9A0.9,2.4 0 0 1 467.4,501.6M469,496A0.9,2.4 0 0 1 469,500.8M470.5,495.1A0.9,2.4 0 0 1 470.5,499.9M472,494.3A0.9,2.4 0 0 1 472,499.1M473.6,493.4A0.9,2.4 0 0 1 473.6,498.2M475.1,492.6A0.9,2.4 0 0 1 475.1,497.3M476.7,491.7A0.9,2.4 0 0 1 476.7,496.5M478.2,490.8A0.9,2.4 0 0 1 478.2,495.6" fill="none" stroke="#4a4a4a" stroke-width="0.47" />
<path d="M342.8,535.7L478.2,460.3 M342.8,540.5L478.2,465.1 M342.8,541.9L478.2,466.4 M342.8,546.8L478.2,471.2 M342.8,548.1L478.2,472.5 M342.8,553L478.2,477.3 M342.8,554.3L478.2,478.6 M342.8,559.2L478.2,483.4 M342.8,560.5L478.2,484.7 M342.8,565.4L478.2,489.5 M342.8,566.8L478.2,490.8 M342.8,571.6L478.2,495.6" fill="none" stroke="#2a2a2a" stroke-width="0.69" />
<path d="M342.8,535.7A2.6,2.4 0 0 0 342.8,540.5M342.8,536.7A1.4,1.4 0 0 0 342.8,539.5M342.8,541.9A2.6,2.4 0 0 0 342.8,546.8M342.8,542.9A1.4,1.4 0 0 0 342.8,545.8M342.8,548.1A2.6,2.4 0 0 0 342.8,553M342.8,549.1A1.4,1.4 0 0 0 342.8,552M342.8,554.3A2.6,2.4 0 0 0 342.8,559.2M342.8,555.3A1.4,1.4 0 0 0 342.8,558.2M342.8,560.5A2.6,2.4 0 0 0 342.8,565.4M342.8,561.5A1.4,1.4 0 0 0 342.8,564.4M342.8,566.8A2.6,2.4 0 0 0 342.8,571.6M342.8,567.8A1.4,1.4 0 0 0 342.8,570.6" fill="none" stroke="#2a2a2a" stroke-width="0.78" />
<path d="M333,531.2 Q334.6,530 336,532.6 L341.8,545 L341.6,588.6 L336.6,590.2 L331.6,588.2 L333.2,575 L333.6,540 Z" fill="none" stroke="#262626" stroke-width="0.67" />
<line x1="336.8" y1="534.0" x2="336.8" y2="590.0" stroke="#262626" stroke-width="0.5" />
<path d="M473.6,449.4 Q475.4,448.2 476.8,450.8 L482,461.6 L481.6,507.6 L476.6,508.8 L471.8,506.6 L473.6,494 L474,458 Z" fill="none" stroke="#262626" stroke-width="0.67" />
<line x1="477.4" y1="452.0" x2="477.4" y2="508.4" stroke="#262626" stroke-width="0.5" />
<path d="M480.6,464.2L488.6,460 M480.6,465.6L488.6,461.4 M333.4,543.2L343.6,538 M333.4,544.6L343.6,539.4 M480.6,470.2L488.6,466.1 M480.6,471.6L488.6,467.4 M333.4,549.4L343.6,544.2 M333.4,550.8L343.6,545.6 M480.6,476.3L488.6,472.1 M480.6,477.7L488.6,473.5 M333.4,555.6L343.6,550.4 M333.4,557L343.6,551.8 M480.6,482.3L488.6,478.1 M480.6,483.7L488.6,479.5 M333.4,561.8L343.6,556.6 M333.4,563.2L343.6,558 M480.6,488.4L488.6,484.2 M480.6,489.8L488.6,485.6 M333.4,568L343.6,562.8 M333.4,569.4L343.6,564.2 M480.6,494.4L488.6,490.2 M480.6,495.8L488.6,491.6 M333.4,574.2L343.6,569 M333.4,575.6L343.6,570.4" fill="none" stroke="#262626" stroke-width="0.56" />
<path d="M462.8,301.3 C456.0,306.4 455.1,317.5 460.3,329.5 C467.1,345.0 486.0,361.2 501.4,372.4 L507.9,375.4" fill="none" stroke="#262626" stroke-width="0.73" />
<path d="M462.8,301.3 L468.8,303.0 L470.6,300.4 L475.7,297.8 L486.8,297.8 L488.5,301.3 L491.1,298.7 L501.4,304.7 L509.1,303.8" fill="none" stroke="#262626" stroke-width="0.67" />
<path d="M470.6,315.8 C468.0,327.8 489.4,353.5 510.0,367.6" fill="none" stroke="#262626" stroke-width="0.67" />
<path d="M470.6,315.8 C477.4,312.4 492.8,313.8 502.2,317.9" fill="none" stroke="#262626" stroke-width="0.67" stroke-dasharray="6 1.2"/>
<path d="M502.4,307.8 L511.6,304.6 L557.0,332.6 L558.6,336.0 L562.6,338.4 L564.6,344.6 L560.2,345.8" fill="none" stroke="#262626" stroke-width="0.67" />
<path d="M502.4,307.8 L504.4,335.0 L506.8,356.2 L510.4,358.6 L509.6,380.6 L514.8,384.4 L518.0,382.2 L545.6,401.8 L550.0,398.0 L552.4,407.6" fill="none" stroke="#262626" stroke-width="0.67" stroke-dasharray="5 1.2"/>
<path d="M559.6,345.8 L564.6,344.4 L557.0,409.4 L552.0,407.8 Z" fill="#fff" stroke="#262626" stroke-width="0.73" />
<line x1="561.6" y1="346.6" x2="554.2" y2="408.6" stroke="#262626" stroke-width="0.5" />
<path d="M544,339.4 A13.2,14.2 0 1 0 549,367.6 L557.6,371" fill="none" stroke="#262626" stroke-width="0.67" />
<path d="M544,339.4 L551,338.4 C556,339.6 559,343 560.6,347" fill="none" stroke="#262626" stroke-width="0.67" />
<ellipse cx="546.8" cy="353.5" rx="4.4" ry="5.2" fill="none" stroke="#262626" stroke-width="0.6" transform="rotate(8 546.8 353.5)"/>
<circle cx="508.6" cy="313.6" r="0.6" fill="#333"/>
<circle cx="507.6" cy="328.0" r="0.6" fill="#333"/>
<circle cx="510.8" cy="345.0" r="0.6" fill="#333"/>
<circle cx="518.6" cy="316.6" r="0.6" fill="#333"/>
<circle cx="527.6" cy="352.4" r="0.6" fill="#333"/>
<circle cx="523.8" cy="372.0" r="0.6" fill="#333"/>
<circle cx="529.6" cy="386.6" r="0.6" fill="#333"/>
<circle cx="540.0" cy="384.0" r="0.6" fill="#333"/>
<circle cx="533.6" cy="336.4" r="0.6" fill="#333"/>
<circle cx="516.0" cy="362.6" r="0.6" fill="#333"/>
<circle cx="519.6" cy="377.6" r="0.6" fill="#333"/>
<circle cx="545.0" cy="391.0" r="0.6" fill="#333"/>
<circle cx="549.6" cy="381.0" r="0.6" fill="#333"/>
<line x1="546.6" y1="323.2" x2="678.0" y2="251.0" stroke="#262626" stroke-width="0.62" />
<line x1="563.6" y1="343.2" x2="706.6" y2="265.0" stroke="#262626" stroke-width="0.78" />
<line x1="564.6" y1="345.6" x2="707.2" y2="267.6" stroke="#262626" stroke-width="0.67" />
<circle cx="578.3" cy="336.4" r="0.7" fill="#333"/>
<circle cx="599.8" cy="324.7" r="0.7" fill="#333"/>
<circle cx="621.2" cy="313.0" r="0.7" fill="#333"/>
<circle cx="642.6" cy="301.3" r="0.7" fill="#333"/>
<circle cx="664.1" cy="289.6" r="0.7" fill="#333"/>
<circle cx="685.5" cy="277.9" r="0.7" fill="#333"/>
<path d="M645.4,226.0 L647.0,229.6 L707.0,264.4 L707.4,261.4 L647.6,226.0 Z" fill="none" stroke="#262626" stroke-width="0.67" />
<line x1="646.0" y1="228.0" x2="649.2" y2="265.6" stroke="#262626" stroke-width="0.62" stroke-dasharray="4 1.2"/>
<circle cx="650.6" cy="233.6" r="0.6" fill="#333"/>
<circle cx="656.4" cy="240.0" r="0.6" fill="#333"/>
<circle cx="650.6" cy="245.0" r="0.6" fill="#333"/>
<circle cx="660.6" cy="238.6" r="0.6" fill="#333"/>
<circle cx="687.6" cy="254.6" r="0.6" fill="#333"/>
<circle cx="672.6" cy="246.0" r="0.6" fill="#333"/>
<path d="M565.3,347.3A0.9,2.4 0 0 1 565.3,352.2M566.9,346.5A0.9,2.4 0 0 1 566.9,351.4M568.4,345.6A0.9,2.4 0 0 1 568.4,350.5M570,344.8A0.9,2.4 0 0 1 570,349.7M571.5,344A0.9,2.4 0 0 1 571.5,348.9M573.1,343.2A0.9,2.4 0 0 1 573.1,348M574.6,342.3A0.9,2.4 0 0 1 574.6,347.2M576.2,341.5A0.9,2.4 0 0 1 576.2,346.4M577.8,340.7A0.9,2.4 0 0 1 577.7,345.6M579.3,339.8A0.9,2.4 0 0 1 579.3,344.7M580.9,339A0.9,2.4 0 0 1 580.9,343.9M582.4,338.2A0.9,2.4 0 0 1 582.4,343.1M584,337.3A0.9,2.4 0 0 1 584,342.2M585.5,336.5A0.9,2.4 0 0 1 585.5,341.4M587.1,335.7A0.9,2.4 0 0 1 587.1,340.6M588.6,334.9A0.9,2.4 0 0 1 588.6,339.7M590.2,334A0.9,2.4 0 0 1 590.2,338.9M591.8,333.2A0.9,2.4 0 0 1 591.7,338.1M593.3,332.4A0.9,2.4 0 0 1 593.3,337.3M594.9,331.5A0.9,2.4 0 0 1 594.9,336.4M596.4,330.7A0.9,2.4 0 0 1 596.4,335.6M598,329.9A0.9,2.4 0 0 1 598,334.8M599.5,329A0.9,2.4 0 0 1 599.5,333.9M601.1,328.2A0.9,2.4 0 0 1 601.1,333.1M602.7,327.4A0.9,2.4 0 0 1 602.6,332.3M604.2,326.6A0.9,2.4 0 0 1 604.2,331.5M605.8,325.7A0.9,2.4 0 0 1 605.7,330.6M607.3,324.9A0.9,2.4 0 0 1 607.3,329.8M608.9,324.1A0.9,2.4 0 0 1 608.9,329M610.4,323.2A0.9,2.4 0 0 1 610.4,328.1M612,322.4A0.9,2.4 0 0 1 612,327.3M613.6,321.6A0.9,2.4 0 0 1 613.5,326.5M615.1,320.7A0.9,2.4 0 0 1 615.1,325.7M616.7,319.9A0.9,2.4 0 0 1 616.6,324.8M618.2,319.1A0.9,2.4 0 0 1 618.2,324M619.8,318.2A0.9,2.4 0 0 1 619.8,323.2M621.3,317.4A0.9,2.4 0 0 1 621.3,322.3M622.9,316.6A0.9,2.4 0 0 1 622.9,321.5M624.5,315.8A0.9,2.4 0 0 1 624.4,320.7M626,314.9A0.9,2.4 0 0 1 626,319.9M627.6,314.1A0.9,2.4 0 0 1 627.5,319M629.1,313.3A0.9,2.4 0 0 1 629.1,318.2M630.7,312.4A0.9,2.4 0 0 1 630.6,317.4M632.2,311.6A0.9,2.4 0 0 1 632.2,316.5M633.8,310.8A0.9,2.4 0 0 1 633.8,315.7M635.3,310A0.9,2.4 0 0 1 635.3,314.9M636.9,309.1A0.9,2.4 0 0 1 636.9,314M638.5,308.3A0.9,2.4 0 0 1 638.4,313.2M640,307.5A0.9,2.4 0 0 1 640,312.4M641.6,306.6A0.9,2.4 0 0 1 641.5,311.6M643.1,305.8A0.9,2.4 0 0 1 643.1,310.7M644.7,305A0.9,2.4 0 0 1 644.6,309.9M646.2,304.1A0.9,2.4 0 0 1 646.2,309.1M647.8,303.3A0.9,2.4 0 0 1 647.8,308.2M649.4,302.5A0.9,2.4 0 0 1 649.3,307.4M650.9,301.7A0.9,2.4 0 0 1 650.9,306.6M652.5,300.8A0.9,2.4 0 0 1 652.4,305.8M654,300A0.9,2.4 0 0 1 654,304.9M655.6,299.2A0.9,2.4 0 0 1 655.5,304.1M657.1,298.3A0.9,2.4 0 0 1 657.1,303.3M658.7,297.5A0.9,2.4 0 0 1 658.6,302.4M660.3,296.7A0.9,2.4 0 0 1 660.2,301.6M661.8,295.8A0.9,2.4 0 0 1 661.8,300.8M663.4,295A0.9,2.4 0 0 1 663.3,300M664.9,294.2A0.9,2.4 0 0 1 664.9,299.1M666.5,293.4A0.9,2.4 0 0 1 666.4,298.3M668,292.5A0.9,2.4 0 0 1 668,297.5M669.6,291.7A0.9,2.4 0 0 1 669.5,296.6M671.2,290.9A0.9,2.4 0 0 1 671.1,295.8M672.7,290A0.9,2.4 0 0 1 672.6,295M674.3,289.2A0.9,2.4 0 0 1 674.2,294.1M675.8,288.4A0.9,2.4 0 0 1 675.8,293.3M677.4,287.5A0.9,2.4 0 0 1 677.3,292.5M678.9,286.7A0.9,2.4 0 0 1 678.9,291.7M680.5,285.9A0.9,2.4 0 0 1 680.4,290.8M682,285.1A0.9,2.4 0 0 1 682,290M683.6,284.2A0.9,2.4 0 0 1 683.5,289.2M685.2,283.4A0.9,2.4 0 0 1 685.1,288.3M686.7,282.6A0.9,2.4 0 0 1 686.6,287.5M688.3,281.7A0.9,2.4 0 0 1 688.2,286.7M689.8,280.9A0.9,2.4 0 0 1 689.8,285.9M691.4,280.1A0.9,2.4 0 0 1 691.3,285M692.9,279.2A0.9,2.4 0 0 1 692.9,284.2M694.5,278.4A0.9,2.4 0 0 1 694.4,283.4M696.1,277.6A0.9,2.4 0 0 1 696,282.5M697.6,276.8A0.9,2.4 0 0 1 697.5,281.7M699.2,275.9A0.9,2.4 0 0 1 699.1,280.9M700.7,275.1A0.9,2.4 0 0 1 700.7,280.1M702.3,274.3A0.9,2.4 0 0 1 702.2,279.2M703.8,273.4A0.9,2.4 0 0 1 703.8,278.4M705.4,272.6A0.9,2.4 0 0 1 705.3,277.6M565.3,353.6A0.9,2.4 0 0 1 565.3,358.4M566.9,352.7A0.9,2.4 0 0 1 566.9,357.6M568.4,351.9A0.9,2.4 0 0 1 568.4,356.8M570,351.1A0.9,2.4 0 0 1 570,356M571.5,350.2A0.9,2.4 0 0 1 571.5,355.1M573.1,349.4A0.9,2.4 0 0 1 573.1,354.3M574.6,348.6A0.9,2.4 0 0 1 574.6,353.5M576.2,347.8A0.9,2.4 0 0 1 576.2,352.7M577.7,346.9A0.9,2.4 0 0 1 577.7,351.8M579.3,346.1A0.9,2.4 0 0 1 579.3,351M580.9,345.3A0.9,2.4 0 0 1 580.8,350.2M582.4,344.4A0.9,2.4 0 0 1 582.4,349.3M584,343.6A0.9,2.4 0 0 1 584,348.5M585.5,342.8A0.9,2.4 0 0 1 585.5,347.7M587.1,342A0.9,2.4 0 0 1 587.1,346.9M588.6,341.1A0.9,2.4 0 0 1 588.6,346M590.2,340.3A0.9,2.4 0 0 1 590.2,345.2M591.7,339.5A0.9,2.4 0 0 1 591.7,344.4M593.3,338.6A0.9,2.4 0 0 1 593.3,343.5M594.9,337.8A0.9,2.4 0 0 1 594.8,342.7M596.4,337A0.9,2.4 0 0 1 596.4,341.9M598,336.2A0.9,2.4 0 0 1 597.9,341.1M599.5,335.3A0.9,2.4 0 0 1 599.5,340.2M601.1,334.5A0.9,2.4 0 0 1 601.1,339.4M602.6,333.7A0.9,2.4 0 0 1 602.6,338.6M604.2,332.8A0.9,2.4 0 0 1 604.2,337.7M605.7,332A0.9,2.4 0 0 1 605.7,336.9M607.3,331.2A0.9,2.4 0 0 1 607.3,336.1M608.9,330.4A0.9,2.4 0 0 1 608.8,335.3M610.4,329.5A0.9,2.4 0 0 1 610.4,334.4M612,328.7A0.9,2.4 0 0 1 611.9,333.6M613.5,327.9A0.9,2.4 0 0 1 613.5,332.8M615.1,327A0.9,2.4 0 0 1 615,332M616.6,326.2A0.9,2.4 0 0 1 616.6,331.1M618.2,325.4A0.9,2.4 0 0 1 618.2,330.3M619.7,324.6A0.9,2.4 0 0 1 619.7,329.5M621.3,323.7A0.9,2.4 0 0 1 621.3,328.6M622.9,322.9A0.9,2.4 0 0 1 622.8,327.8M624.4,322.1A0.9,2.4 0 0 1 624.4,327M626,321.2A0.9,2.4 0 0 1 625.9,326.2M627.5,320.4A0.9,2.4 0 0 1 627.5,325.3M629.1,319.6A0.9,2.4 0 0 1 629,324.5M630.6,318.8A0.9,2.4 0 0 1 630.6,323.7M632.2,317.9A0.9,2.4 0 0 1 632.1,322.8M633.7,317.1A0.9,2.4 0 0 1 633.7,322M635.3,316.3A0.9,2.4 0 0 1 635.3,321.2M636.9,315.4A0.9,2.4 0 0 1 636.8,320.4M638.4,314.6A0.9,2.4 0 0 1 638.4,319.5M640,313.8A0.9,2.4 0 0 1 639.9,318.7M641.5,312.9A0.9,2.4 0 0 1 641.5,317.9M643.1,312.1A0.9,2.4 0 0 1 643,317.1M644.6,311.3A0.9,2.4 0 0 1 644.6,316.2M646.2,310.5A0.9,2.4 0 0 1 646.1,315.4M647.7,309.6A0.9,2.4 0 0 1 647.7,314.6M649.3,308.8A0.9,2.4 0 0 1 649.2,313.7M650.9,308A0.9,2.4 0 0 1 650.8,312.9M652.4,307.1A0.9,2.4 0 0 1 652.4,312.1M654,306.3A0.9,2.4 0 0 1 653.9,311.3M655.5,305.5A0.9,2.4 0 0 1 655.5,310.4M657.1,304.7A0.9,2.4 0 0 1 657,309.6M658.6,303.8A0.9,2.4 0 0 1 658.6,308.8M660.2,303A0.9,2.4 0 0 1 660.1,307.9M661.7,302.2A0.9,2.4 0 0 1 661.7,307.1M663.3,301.3A0.9,2.4 0 0 1 663.2,306.3M664.9,300.5A0.9,2.4 0 0 1 664.8,305.5M666.4,299.7A0.9,2.4 0 0 1 666.3,304.6M668,298.9A0.9,2.4 0 0 1 667.9,303.8M669.5,298A0.9,2.4 0 0 1 669.5,303M671.1,297.2A0.9,2.4 0 0 1 671,302.1M672.6,296.4A0.9,2.4 0 0 1 672.6,301.3M674.2,295.5A0.9,2.4 0 0 1 674.1,300.5M675.7,294.7A0.9,2.4 0 0 1 675.7,299.7M677.3,293.9A0.9,2.4 0 0 1 677.2,298.8M678.9,293.1A0.9,2.4 0 0 1 678.8,298M680.4,292.2A0.9,2.4 0 0 1 680.3,297.2M682,291.4A0.9,2.4 0 0 1 681.9,296.4M683.5,290.6A0.9,2.4 0 0 1 683.5,295.5M685.1,289.7A0.9,2.4 0 0 1 685,294.7M686.6,288.9A0.9,2.4 0 0 1 686.6,293.9M688.2,288.1A0.9,2.4 0 0 1 688.1,293M689.7,287.3A0.9,2.4 0 0 1 689.7,292.2M691.3,286.4A0.9,2.4 0 0 1 691.2,291.4M692.9,285.6A0.9,2.4 0 0 1 692.8,290.6M694.4,284.8A0.9,2.4 0 0 1 694.3,289.7M696,283.9A0.9,2.4 0 0 1 695.9,288.9M697.5,283.1A0.9,2.4 0 0 1 697.4,288.1M699.1,282.3A0.9,2.4 0 0 1 699,287.2M700.6,281.5A0.9,2.4 0 0 1 700.6,286.4M702.2,280.6A0.9,2.4 0 0 1 702.1,285.6M703.7,279.8A0.9,2.4 0 0 1 703.7,284.8M705.3,279A0.9,2.4 0 0 1 705.2,283.9M565.3,359.8A0.9,2.4 0 0 1 565.3,364.7M566.9,359A0.9,2.4 0 0 1 566.9,363.9M568.4,358.2A0.9,2.4 0 0 1 568.4,363.1M570,357.3A0.9,2.4 0 0 1 570,362.2M571.5,356.5A0.9,2.4 0 0 1 571.5,361.4M573.1,355.7A0.9,2.4 0 0 1 573.1,360.6M574.6,354.9A0.9,2.4 0 0 1 574.6,359.8M576.2,354A0.9,2.4 0 0 1 576.2,358.9M577.7,353.2A0.9,2.4 0 0 1 577.7,358.1M579.3,352.4A0.9,2.4 0 0 1 579.3,357.3M580.8,351.5A0.9,2.4 0 0 1 580.8,356.4M582.4,350.7A0.9,2.4 0 0 1 582.4,355.6M584,349.9A0.9,2.4 0 0 1 583.9,354.8M585.5,349.1A0.9,2.4 0 0 1 585.5,354M587.1,348.2A0.9,2.4 0 0 1 587,353.1M588.6,347.4A0.9,2.4 0 0 1 588.6,352.3M590.2,346.6A0.9,2.4 0 0 1 590.2,351.5M591.7,345.8A0.9,2.4 0 0 1 591.7,350.7M593.3,344.9A0.9,2.4 0 0 1 593.3,349.8M594.8,344.1A0.9,2.4 0 0 1 594.8,349M596.4,343.3A0.9,2.4 0 0 1 596.4,348.2M597.9,342.4A0.9,2.4 0 0 1 597.9,347.3M599.5,341.6A0.9,2.4 0 0 1 599.5,346.5M601.1,340.8A0.9,2.4 0 0 1 601,345.7M602.6,340A0.9,2.4 0 0 1 602.6,344.9M604.2,339.1A0.9,2.4 0 0 1 604.1,344M605.7,338.3A0.9,2.4 0 0 1 605.7,343.2M607.3,337.5A0.9,2.4 0 0 1 607.2,342.4M608.8,336.7A0.9,2.4 0 0 1 608.8,341.6M610.4,335.8A0.9,2.4 0 0 1 610.4,340.7M611.9,335A0.9,2.4 0 0 1 611.9,339.9M613.5,334.2A0.9,2.4 0 0 1 613.5,339.1M615,333.3A0.9,2.4 0 0 1 615,338.3M616.6,332.5A0.9,2.4 0 0 1 616.6,337.4M618.1,331.7A0.9,2.4 0 0 1 618.1,336.6M619.7,330.9A0.9,2.4 0 0 1 619.7,335.8M621.3,330A0.9,2.4 0 0 1 621.2,334.9M622.8,329.2A0.9,2.4 0 0 1 622.8,334.1M624.4,328.4A0.9,2.4 0 0 1 624.3,333.3M625.9,327.5A0.9,2.4 0 0 1 625.9,332.5M627.5,326.7A0.9,2.4 0 0 1 627.4,331.6M629,325.9A0.9,2.4 0 0 1 629,330.8M630.6,325.1A0.9,2.4 0 0 1 630.5,330M632.1,324.2A0.9,2.4 0 0 1 632.1,329.2M633.7,323.4A0.9,2.4 0 0 1 633.7,328.3M635.2,322.6A0.9,2.4 0 0 1 635.2,327.5M636.8,321.8A0.9,2.4 0 0 1 636.8,326.7M638.4,320.9A0.9,2.4 0 0 1 638.3,325.9M639.9,320.1A0.9,2.4 0 0 1 639.9,325M641.5,319.3A0.9,2.4 0 0 1 641.4,324.2M643,318.4A0.9,2.4 0 0 1 643,323.4M644.6,317.6A0.9,2.4 0 0 1 644.5,322.5M646.1,316.8A0.9,2.4 0 0 1 646.1,321.7M647.7,316A0.9,2.4 0 0 1 647.6,320.9M649.2,315.1A0.9,2.4 0 0 1 649.2,320.1M650.8,314.3A0.9,2.4 0 0 1 650.7,319.2M652.3,313.5A0.9,2.4 0 0 1 652.3,318.4M653.9,312.6A0.9,2.4 0 0 1 653.8,317.6M655.5,311.8A0.9,2.4 0 0 1 655.4,316.8M657,311A0.9,2.4 0 0 1 657,315.9M658.6,310.2A0.9,2.4 0 0 1 658.5,315.1M660.1,309.3A0.9,2.4 0 0 1 660.1,314.3M661.7,308.5A0.9,2.4 0 0 1 661.6,313.4M663.2,307.7A0.9,2.4 0 0 1 663.2,312.6M664.8,306.9A0.9,2.4 0 0 1 664.7,311.8M666.3,306A0.9,2.4 0 0 1 666.3,311M667.9,305.2A0.9,2.4 0 0 1 667.8,310.1M669.4,304.4A0.9,2.4 0 0 1 669.4,309.3M671,303.5A0.9,2.4 0 0 1 670.9,308.5M672.6,302.7A0.9,2.4 0 0 1 672.5,307.7M674.1,301.9A0.9,2.4 0 0 1 674,306.8M675.7,301.1A0.9,2.4 0 0 1 675.6,306M677.2,300.2A0.9,2.4 0 0 1 677.1,305.2M678.8,299.4A0.9,2.4 0 0 1 678.7,304.4M680.3,298.6A0.9,2.4 0 0 1 680.3,303.5M681.9,297.7A0.9,2.4 0 0 1 681.8,302.7M683.4,296.9A0.9,2.4 0 0 1 683.4,301.9M685,296.1A0.9,2.4 0 0 1 684.9,301M686.5,295.3A0.9,2.4 0 0 1 686.5,300.2M688.1,294.4A0.9,2.4 0 0 1 688,299.4M689.6,293.6A0.9,2.4 0 0 1 689.6,298.6M691.2,292.8A0.9,2.4 0 0 1 691.1,297.7M692.8,292A0.9,2.4 0 0 1 692.7,296.9M694.3,291.1A0.9,2.4 0 0 1 694.2,296.1M695.9,290.3A0.9,2.4 0 0 1 695.8,295.3M697.4,289.5A0.9,2.4 0 0 1 697.3,294.4M699,288.6A0.9,2.4 0 0 1 698.9,293.6M700.5,287.8A0.9,2.4 0 0 1 700.5,292.8M702.1,287A0.9,2.4 0 0 1 702,292M703.6,286.2A0.9,2.4 0 0 1 703.6,291.1M705.2,285.3A0.9,2.4 0 0 1 705.1,290.3M565.3,366.1A0.9,2.4 0 0 1 565.3,371M566.9,365.3A0.9,2.4 0 0 1 566.9,370.1M568.4,364.4A0.9,2.4 0 0 1 568.4,369.3M570,363.6A0.9,2.4 0 0 1 570,368.5M571.5,362.8A0.9,2.4 0 0 1 571.5,367.7M573.1,362A0.9,2.4 0 0 1 573.1,366.8M574.6,361.1A0.9,2.4 0 0 1 574.6,366M576.2,360.3A0.9,2.4 0 0 1 576.2,365.2M577.7,359.5A0.9,2.4 0 0 1 577.7,364.4M579.3,358.7A0.9,2.4 0 0 1 579.3,363.5M580.8,357.8A0.9,2.4 0 0 1 580.8,362.7M582.4,357A0.9,2.4 0 0 1 582.4,361.9M583.9,356.2A0.9,2.4 0 0 1 583.9,361.1M585.5,355.3A0.9,2.4 0 0 1 585.5,360.2M587,354.5A0.9,2.4 0 0 1 587,359.4M588.6,353.7A0.9,2.4 0 0 1 588.6,358.6M590.2,352.9A0.9,2.4 0 0 1 590.1,357.8M591.7,352A0.9,2.4 0 0 1 591.7,356.9M593.3,351.2A0.9,2.4 0 0 1 593.2,356.1M594.8,350.4A0.9,2.4 0 0 1 594.8,355.3M596.4,349.6A0.9,2.4 0 0 1 596.3,354.5M597.9,348.7A0.9,2.4 0 0 1 597.9,353.6M599.5,347.9A0.9,2.4 0 0 1 599.5,352.8M601,347.1A0.9,2.4 0 0 1 601,352M602.6,346.3A0.9,2.4 0 0 1 602.6,351.2M604.1,345.4A0.9,2.4 0 0 1 604.1,350.3M605.7,344.6A0.9,2.4 0 0 1 605.7,349.5M607.2,343.8A0.9,2.4 0 0 1 607.2,348.7M608.8,342.9A0.9,2.4 0 0 1 608.8,347.9M610.3,342.1A0.9,2.4 0 0 1 610.3,347M611.9,341.3A0.9,2.4 0 0 1 611.9,346.2M613.4,340.5A0.9,2.4 0 0 1 613.4,345.4M615,339.6A0.9,2.4 0 0 1 615,344.6M616.6,338.8A0.9,2.4 0 0 1 616.5,343.7M618.1,338A0.9,2.4 0 0 1 618.1,342.9M619.7,337.2A0.9,2.4 0 0 1 619.6,342.1M621.2,336.3A0.9,2.4 0 0 1 621.2,341.3M622.8,335.5A0.9,2.4 0 0 1 622.7,340.4M624.3,334.7A0.9,2.4 0 0 1 624.3,339.6M625.9,333.9A0.9,2.4 0 0 1 625.8,338.8M627.4,333A0.9,2.4 0 0 1 627.4,337.9M629,332.2A0.9,2.4 0 0 1 628.9,337.1M630.5,331.4A0.9,2.4 0 0 1 630.5,336.3M632.1,330.5A0.9,2.4 0 0 1 632,335.5M633.6,329.7A0.9,2.4 0 0 1 633.6,334.6M635.2,328.9A0.9,2.4 0 0 1 635.2,333.8M636.7,328.1A0.9,2.4 0 0 1 636.7,333M638.3,327.2A0.9,2.4 0 0 1 638.3,332.2M639.9,326.4A0.9,2.4 0 0 1 639.8,331.3M641.4,325.6A0.9,2.4 0 0 1 641.4,330.5M643,324.8A0.9,2.4 0 0 1 642.9,329.7M644.5,323.9A0.9,2.4 0 0 1 644.5,328.9M646.1,323.1A0.9,2.4 0 0 1 646,328M647.6,322.3A0.9,2.4 0 0 1 647.6,327.2M649.2,321.5A0.9,2.4 0 0 1 649.1,326.4M650.7,320.6A0.9,2.4 0 0 1 650.7,325.6M652.3,319.8A0.9,2.4 0 0 1 652.2,324.7M653.8,319A0.9,2.4 0 0 1 653.8,323.9M655.4,318.1A0.9,2.4 0 0 1 655.3,323.1M656.9,317.3A0.9,2.4 0 0 1 656.9,322.3M658.5,316.5A0.9,2.4 0 0 1 658.4,321.4M660,315.7A0.9,2.4 0 0 1 660,320.6M661.6,314.8A0.9,2.4 0 0 1 661.5,319.8M663.2,314A0.9,2.4 0 0 1 663.1,319M664.7,313.2A0.9,2.4 0 0 1 664.6,318.1M666.3,312.4A0.9,2.4 0 0 1 666.2,317.3M667.8,311.5A0.9,2.4 0 0 1 667.8,316.5M669.4,310.7A0.9,2.4 0 0 1 669.3,315.7M670.9,309.9A0.9,2.4 0 0 1 670.9,314.8M672.5,309.1A0.9,2.4 0 0 1 672.4,314M674,308.2A0.9,2.4 0 0 1 674,313.2M675.6,307.4A0.9,2.4 0 0 1 675.5,312.4M677.1,306.6A0.9,2.4 0 0 1 677.1,311.5M678.7,305.8A0.9,2.4 0 0 1 678.6,310.7M680.2,304.9A0.9,2.4 0 0 1 680.2,309.9M681.8,304.1A0.9,2.4 0 0 1 681.7,309.1M683.3,303.3A0.9,2.4 0 0 1 683.3,308.2M684.9,302.4A0.9,2.4 0 0 1 684.8,307.4M686.5,301.6A0.9,2.4 0 0 1 686.4,306.6M688,300.8A0.9,2.4 0 0 1 687.9,305.7M689.6,300A0.9,2.4 0 0 1 689.5,304.9M691.1,299.1A0.9,2.4 0 0 1 691,304.1M692.7,298.3A0.9,2.4 0 0 1 692.6,303.3M694.2,297.5A0.9,2.4 0 0 1 694.1,302.4M695.8,296.7A0.9,2.4 0 0 1 695.7,301.6M697.3,295.8A0.9,2.4 0 0 1 697.2,300.8M698.9,295A0.9,2.4 0 0 1 698.8,300M700.4,294.2A0.9,2.4 0 0 1 700.4,299.1M702,293.4A0.9,2.4 0 0 1 701.9,298.3M703.5,292.5A0.9,2.4 0 0 1 703.5,297.5M705.1,291.7A0.9,2.4 0 0 1 705,296.7M565.3,372.4A0.9,2.4 0 0 1 565.3,377.2M566.9,371.5A0.9,2.4 0 0 1 566.9,376.4M568.4,370.7A0.9,2.4 0 0 1 568.4,375.6M570,369.9A0.9,2.4 0 0 1 570,374.8M571.5,369.1A0.9,2.4 0 0 1 571.5,373.9M573.1,368.2A0.9,2.4 0 0 1 573.1,373.1M574.6,367.4A0.9,2.4 0 0 1 574.6,372.3M576.2,366.6A0.9,2.4 0 0 1 576.2,371.5M577.7,365.7A0.9,2.4 0 0 1 577.7,370.6M579.3,364.9A0.9,2.4 0 0 1 579.3,369.8M580.8,364.1A0.9,2.4 0 0 1 580.8,369M582.4,363.3A0.9,2.4 0 0 1 582.4,368.2M583.9,362.4A0.9,2.4 0 0 1 583.9,367.3M585.5,361.6A0.9,2.4 0 0 1 585.5,366.5M587,360.8A0.9,2.4 0 0 1 587,365.7M588.6,360A0.9,2.4 0 0 1 588.6,364.9M590.1,359.1A0.9,2.4 0 0 1 590.1,364M591.7,358.3A0.9,2.4 0 0 1 591.7,363.2M593.2,357.5A0.9,2.4 0 0 1 593.2,362.4M594.8,356.7A0.9,2.4 0 0 1 594.8,361.6M596.3,355.8A0.9,2.4 0 0 1 596.3,360.7M597.9,355A0.9,2.4 0 0 1 597.9,359.9M599.4,354.2A0.9,2.4 0 0 1 599.4,359.1M601,353.4A0.9,2.4 0 0 1 601,358.3M602.5,352.5A0.9,2.4 0 0 1 602.5,357.4M604.1,351.7A0.9,2.4 0 0 1 604.1,356.6M605.7,350.9A0.9,2.4 0 0 1 605.6,355.8M607.2,350.1A0.9,2.4 0 0 1 607.2,355M608.8,349.2A0.9,2.4 0 0 1 608.7,354.2M610.3,348.4A0.9,2.4 0 0 1 610.3,353.3M611.9,347.6A0.9,2.4 0 0 1 611.8,352.5M613.4,346.8A0.9,2.4 0 0 1 613.4,351.7M615,345.9A0.9,2.4 0 0 1 614.9,350.9M616.5,345.1A0.9,2.4 0 0 1 616.5,350M618.1,344.3A0.9,2.4 0 0 1 618,349.2M619.6,343.5A0.9,2.4 0 0 1 619.6,348.4M621.2,342.6A0.9,2.4 0 0 1 621.1,347.6M622.7,341.8A0.9,2.4 0 0 1 622.7,346.7M624.3,341A0.9,2.4 0 0 1 624.2,345.9M625.8,340.2A0.9,2.4 0 0 1 625.8,345.1M627.4,339.3A0.9,2.4 0 0 1 627.3,344.3M628.9,338.5A0.9,2.4 0 0 1 628.9,343.4M630.5,337.7A0.9,2.4 0 0 1 630.4,342.6M632,336.9A0.9,2.4 0 0 1 632,341.8M633.6,336A0.9,2.4 0 0 1 633.6,341M635.1,335.2A0.9,2.4 0 0 1 635.1,340.1M636.7,334.4A0.9,2.4 0 0 1 636.7,339.3M638.2,333.6A0.9,2.4 0 0 1 638.2,338.5M639.8,332.7A0.9,2.4 0 0 1 639.8,337.7M641.4,331.9A0.9,2.4 0 0 1 641.3,336.8M642.9,331.1A0.9,2.4 0 0 1 642.9,336M644.5,330.3A0.9,2.4 0 0 1 644.4,335.2M646,329.4A0.9,2.4 0 0 1 646,334.4M647.6,328.6A0.9,2.4 0 0 1 647.5,333.5M649.1,327.8A0.9,2.4 0 0 1 649.1,332.7M650.7,327A0.9,2.4 0 0 1 650.6,331.9M652.2,326.1A0.9,2.4 0 0 1 652.2,331.1M653.8,325.3A0.9,2.4 0 0 1 653.7,330.2M655.3,324.5A0.9,2.4 0 0 1 655.3,329.4M656.9,323.7A0.9,2.4 0 0 1 656.8,328.6M658.4,322.8A0.9,2.4 0 0 1 658.4,327.8M660,322A0.9,2.4 0 0 1 659.9,326.9M661.5,321.2A0.9,2.4 0 0 1 661.5,326.1M663.1,320.4A0.9,2.4 0 0 1 663,325.3M664.6,319.5A0.9,2.4 0 0 1 664.6,324.5M666.2,318.7A0.9,2.4 0 0 1 666.1,323.6M667.7,317.9A0.9,2.4 0 0 1 667.7,322.8M669.3,317.1A0.9,2.4 0 0 1 669.2,322M670.8,316.2A0.9,2.4 0 0 1 670.8,321.2M672.4,315.4A0.9,2.4 0 0 1 672.3,320.3M673.9,314.6A0.9,2.4 0 0 1 673.9,319.5M675.5,313.7A0.9,2.4 0 0 1 675.4,318.7M677,312.9A0.9,2.4 0 0 1 677,317.9M678.6,312.1A0.9,2.4 0 0 1 678.5,317M680.2,311.3A0.9,2.4 0 0 1 680.1,316.2M681.7,310.4A0.9,2.4 0 0 1 681.6,315.4M683.3,309.6A0.9,2.4 0 0 1 683.2,314.6M684.8,308.8A0.9,2.4 0 0 1 684.7,313.8M686.4,308A0.9,2.4 0 0 1 686.3,312.9M687.9,307.1A0.9,2.4 0 0 1 687.8,312.1M689.5,306.3A0.9,2.4 0 0 1 689.4,311.3M691,305.5A0.9,2.4 0 0 1 690.9,310.5M692.6,304.7A0.9,2.4 0 0 1 692.5,309.6M694.1,303.8A0.9,2.4 0 0 1 694,308.8M695.7,303A0.9,2.4 0 0 1 695.6,308M697.2,302.2A0.9,2.4 0 0 1 697.1,307.2M698.8,301.4A0.9,2.4 0 0 1 698.7,306.3M700.3,300.5A0.9,2.4 0 0 1 700.3,305.5M701.9,299.7A0.9,2.4 0 0 1 701.8,304.7M703.4,298.9A0.9,2.4 0 0 1 703.4,303.9M705,298.1A0.9,2.4 0 0 1 704.9,303M565.3,378.6A0.9,2.4 0 0 1 565.3,383.5M566.9,377.8A0.9,2.4 0 0 1 566.8,382.7M568.4,377A0.9,2.4 0 0 1 568.4,381.9M570,376.1A0.9,2.4 0 0 1 569.9,381M571.5,375.3A0.9,2.4 0 0 1 571.5,380.2M573.1,374.5A0.9,2.4 0 0 1 573,379.4M574.6,373.7A0.9,2.4 0 0 1 574.6,378.6M576.2,372.8A0.9,2.4 0 0 1 576.1,377.7M577.7,372A0.9,2.4 0 0 1 577.7,376.9M579.3,371.2A0.9,2.4 0 0 1 579.2,376.1M580.8,370.4A0.9,2.4 0 0 1 580.8,375.3M582.4,369.5A0.9,2.4 0 0 1 582.3,374.4M583.9,368.7A0.9,2.4 0 0 1 583.9,373.6M585.5,367.9A0.9,2.4 0 0 1 585.4,372.8M587,367.1A0.9,2.4 0 0 1 587,372M588.6,366.3A0.9,2.4 0 0 1 588.5,371.1M590.1,365.4A0.9,2.4 0 0 1 590.1,370.3M591.7,364.6A0.9,2.4 0 0 1 591.6,369.5M593.2,363.8A0.9,2.4 0 0 1 593.2,368.7M594.8,363A0.9,2.4 0 0 1 594.8,367.9M596.3,362.1A0.9,2.4 0 0 1 596.3,367M597.9,361.3A0.9,2.4 0 0 1 597.8,366.2M599.4,360.5A0.9,2.4 0 0 1 599.4,365.4M601,359.7A0.9,2.4 0 0 1 600.9,364.6M602.5,358.8A0.9,2.4 0 0 1 602.5,363.7M604.1,358A0.9,2.4 0 0 1 604,362.9M605.6,357.2A0.9,2.4 0 0 1 605.6,362.1M607.2,356.4A0.9,2.4 0 0 1 607.1,361.3M608.7,355.5A0.9,2.4 0 0 1 608.7,360.4M610.3,354.7A0.9,2.4 0 0 1 610.2,359.6M611.8,353.9A0.9,2.4 0 0 1 611.8,358.8M613.4,353.1A0.9,2.4 0 0 1 613.3,358M614.9,352.2A0.9,2.4 0 0 1 614.9,357.2M616.5,351.4A0.9,2.4 0 0 1 616.4,356.3M618,350.6A0.9,2.4 0 0 1 618,355.5M619.6,349.8A0.9,2.4 0 0 1 619.5,354.7M621.1,348.9A0.9,2.4 0 0 1 621.1,353.9M622.7,348.1A0.9,2.4 0 0 1 622.6,353M624.2,347.3A0.9,2.4 0 0 1 624.2,352.2M625.8,346.5A0.9,2.4 0 0 1 625.8,351.4M627.3,345.6A0.9,2.4 0 0 1 627.3,350.6M628.9,344.8A0.9,2.4 0 0 1 628.8,349.7M630.4,344A0.9,2.4 0 0 1 630.4,348.9M632,343.2A0.9,2.4 0 0 1 631.9,348.1M633.5,342.3A0.9,2.4 0 0 1 633.5,347.3M635.1,341.5A0.9,2.4 0 0 1 635,346.4M636.6,340.7A0.9,2.4 0 0 1 636.6,345.6M638.2,339.9A0.9,2.4 0 0 1 638.1,344.8M639.7,339.1A0.9,2.4 0 0 1 639.7,344M641.3,338.2A0.9,2.4 0 0 1 641.2,343.2M642.8,337.4A0.9,2.4 0 0 1 642.8,342.3M644.4,336.6A0.9,2.4 0 0 1 644.3,341.5M645.9,335.8A0.9,2.4 0 0 1 645.9,340.7M647.5,334.9A0.9,2.4 0 0 1 647.4,339.9M649,334.1A0.9,2.4 0 0 1 649,339M650.6,333.3A0.9,2.4 0 0 1 650.5,338.2M652.2,332.5A0.9,2.4 0 0 1 652.1,337.4M653.7,331.6A0.9,2.4 0 0 1 653.6,336.6M655.3,330.8A0.9,2.4 0 0 1 655.2,335.7M656.8,330A0.9,2.4 0 0 1 656.8,334.9M658.4,329.2A0.9,2.4 0 0 1 658.3,334.1M659.9,328.3A0.9,2.4 0 0 1 659.8,333.3M661.5,327.5A0.9,2.4 0 0 1 661.4,332.5M663,326.7A0.9,2.4 0 0 1 662.9,331.6M664.6,325.9A0.9,2.4 0 0 1 664.5,330.8M666.1,325A0.9,2.4 0 0 1 666,330M667.7,324.2A0.9,2.4 0 0 1 667.6,329.2M669.2,323.4A0.9,2.4 0 0 1 669.1,328.3M670.8,322.6A0.9,2.4 0 0 1 670.7,327.5M672.3,321.7A0.9,2.4 0 0 1 672.2,326.7M673.9,320.9A0.9,2.4 0 0 1 673.8,325.9M675.4,320.1A0.9,2.4 0 0 1 675.3,325M677,319.3A0.9,2.4 0 0 1 676.9,324.2M678.5,318.4A0.9,2.4 0 0 1 678.4,323.4M680.1,317.6A0.9,2.4 0 0 1 680,322.6M681.6,316.8A0.9,2.4 0 0 1 681.5,321.8M683.2,316A0.9,2.4 0 0 1 683.1,320.9M684.7,315.1A0.9,2.4 0 0 1 684.6,320.1M686.3,314.3A0.9,2.4 0 0 1 686.2,319.3M687.8,313.5A0.9,2.4 0 0 1 687.8,318.5M689.4,312.7A0.9,2.4 0 0 1 689.3,317.6M690.9,311.9A0.9,2.4 0 0 1 690.8,316.8M692.5,311A0.9,2.4 0 0 1 692.4,316M694,310.2A0.9,2.4 0 0 1 693.9,315.2M695.6,309.4A0.9,2.4 0 0 1 695.5,314.3M697.1,308.6A0.9,2.4 0 0 1 697,313.5M698.7,307.7A0.9,2.4 0 0 1 698.6,312.7M700.2,306.9A0.9,2.4 0 0 1 700.1,311.9M701.8,306.1A0.9,2.4 0 0 1 701.7,311M703.3,305.3A0.9,2.4 0 0 1 703.2,310.2M704.9,304.4A0.9,2.4 0 0 1 704.8,309.4" fill="none" stroke="#4a4a4a" stroke-width="0.47" />
<path d="M565.3,347.3L705.4,272.6 M565.3,352.2L705.3,277.6 M565.3,353.6L705.3,279 M565.3,358.4L705.2,283.9 M565.3,359.8L705.2,285.3 M565.3,364.7L705.1,290.3 M565.3,366.1L705.1,291.7 M565.3,371L705,296.7 M565.3,372.4L705,298.1 M565.3,377.2L704.9,303 M565.3,378.6L704.9,304.4 M565.3,383.5L704.8,309.4" fill="none" stroke="#2a2a2a" stroke-width="0.69" />
<path d="M565.3,347.3A2.6,2.4 0 0 0 565.3,352.2M565.3,348.3A1.4,1.4 0 0 0 565.3,351.2M565.3,353.6A2.6,2.4 0 0 0 565.3,358.4M565.3,354.6A1.4,1.4 0 0 0 565.3,357.4M565.3,359.8A2.6,2.4 0 0 0 565.3,364.7M565.3,360.8A1.4,1.4 0 0 0 565.3,363.7M565.3,366.1A2.6,2.4 0 0 0 565.3,371M565.3,367.1A1.4,1.4 0 0 0 565.3,370M565.3,372.4A2.6,2.4 0 0 0 565.3,377.2M565.3,373.4A1.4,1.4 0 0 0 565.3,376.2M565.3,378.6A2.6,2.4 0 0 0 565.3,383.5M565.3,379.6A1.4,1.4 0 0 0 565.3,382.5" fill="none" stroke="#2a2a2a" stroke-width="0.78" />
<path d="M707.6,266 L708.8,316 L701.4,329.2 L692.6,320.6 L697,313" fill="none" stroke="#262626" stroke-width="0.67" />
<line x1="704.2" y1="310.0" x2="704.2" y2="324.0" stroke="#262626" stroke-width="0.5" />
<path d="M708,276L716,272.4 M708,277.4L716,273.8 M708,282L716,278.4 M708,283.4L716,279.8 M708,288L716,284.4 M708,289.4L716,285.8 M708,294L716,290.4 M708,295.4L716,291.8 M708,300L716,296.4 M708,301.4L716,297.8 M708,306L716,302.4 M708,307.4L716,303.8" fill="none" stroke="#262626" stroke-width="0.56" />
<path d="M699.4,250.4 L707.6,246.8 C716,247.6 722.6,255 722.4,264.6 C722,270 719,274 714.6,275.4 L709,277.6" fill="none" stroke="#262626" stroke-width="0.67" />
<path d="M707.6,246.8 C704,251 703.6,258 706,263" fill="none" stroke="#262626" stroke-width="0.56" />
<path d="M698,247.6 l3,-2.6 l2.6,1.6 l-3,2.6 z M700.6,245 l6,-4.4 M703.6,246.6 l7,-3.6" fill="none" stroke="#262626" stroke-width="0.56" />
<line x1="716.0" y1="271.6" x2="728.0" y2="264.6" stroke="#262626" stroke-width="0.56" />
<path d="M339.3,621.9 L710.5,407.4 L713.9,410.8 L710.0,413.4 L342.4,625.6 L339.6,624.6 Z" fill="none" stroke="#262626" stroke-width="0.67" />
<circle cx="388.8" cy="596.9" r="0.6" fill="#333"/>
<circle cx="463.0" cy="554.3" r="0.6" fill="#333"/>
<circle cx="537.1" cy="511.7" r="0.6" fill="#333"/>
<circle cx="611.3" cy="469.1" r="0.6" fill="#333"/>
<circle cx="674.3" cy="432.9" r="0.6" fill="#333"/>
<path d="M339.3,622.4 C330,626.6 328,636 332,650 C342,676 368,697 392,708.1" fill="none" stroke="#262626" stroke-width="0.73" />
<line x1="392.0" y1="708.1" x2="766.2" y2="490.8" stroke="#222" stroke-width="1.12" />
<line x1="393.4" y1="710.0" x2="764.0" y2="494.6" stroke="#262626" stroke-width="0.56" />
<path d="M703.1,418.2 C704,440 728,466 762.9,493 L766.2,490.8" fill="none" stroke="#262626" stroke-width="0.67" />
<ellipse cx="391.0" cy="675.2" rx="8.8" ry="7.4" fill="none" stroke="#262626" stroke-width="0.6" transform="rotate(15 391.0 675.2)"/>
<ellipse cx="402.4" cy="688.2" rx="3.6" ry="2.4" fill="none" stroke="#262626" stroke-width="0.5" transform="rotate(25 402.4 688.2)"/>
<ellipse cx="554.4" cy="581.3" rx="9.3" ry="7.4" fill="none" stroke="#262626" stroke-width="0.6" transform="rotate(15 554.4 581.3)"/>
<ellipse cx="716.6" cy="487.6" rx="9.3" ry="7.4" fill="none" stroke="#262626" stroke-width="0.6" transform="rotate(15 716.6 487.6)"/>
<ellipse cx="732.8" cy="498.6" rx="3.6" ry="2.4" fill="none" stroke="#262626" stroke-width="0.5" transform="rotate(25 732.8 498.6)"/>
<ellipse cx="570.6" cy="560.2" rx="10.2" ry="8.8" fill="#f6f6f6" stroke="#333" stroke-width="0.9" transform="rotate(15 570.6 560.2)"/>
<ellipse cx="570.8" cy="559.2" rx="8.6" ry="7.0" fill="#e6e6e6" stroke="#444" stroke-width="0.7" transform="rotate(15 570.8 559.2)"/>
<ellipse cx="571.2" cy="558.4" rx="6.4" ry="5.0" fill="#fafafa" stroke="#444" stroke-width="0.7" transform="rotate(15 571.2 558.4)"/>
<ellipse cx="572.2" cy="557.8" rx="3.6" ry="2.9" fill="#e4e4e4" stroke="#555" stroke-width="0.5"/>
<path d="M405.0,716.8 L776.0,502.8 L806.2,523.6 L435.6,737.6 Z" fill="#fff" stroke="#262626" stroke-width="0.67" />
<line x1="435.2" y1="740.0" x2="806.6" y2="525.8" stroke="#222" stroke-width="1.23" />
<path d="M405.0,716.8 L402.0,719.4 L434.4,741.0 L435.6,737.6 Z" fill="#fff" stroke="#262626" stroke-width="0.67" />
<line x1="403.6" y1="718.0" x2="434.6" y2="737.6" stroke="#262626" stroke-width="0.45" />
<clipPath id="m1"><path d="M438.7,705 L579.4,624.8 L592.8,632.8 L453.4,713.6 Z"/></clipPath>
<g clip-path="url(#m1)">
<path d="M429.1,710.4L453.4,713.6 M429.1,710.4L434.3,724.5 M432.5,708.5L456.8,711.7 M432.5,708.5L437.7,722.6 M435.9,706.6L460.2,709.7 M435.9,706.6L441.1,720.6 M439.3,704.7L463.6,707.8 M439.3,704.7L444.5,718.7 M442.7,702.7L467,705.9 M442.7,702.7L447.8,716.8 M446.1,700.8L470.3,703.9 M446.1,700.8L451.2,714.8 M449.5,698.9L473.7,702 M449.5,698.9L454.6,712.9 M452.9,696.9L477.1,700.1 M452.9,696.9L458,711 M456.2,695L480.5,698.1 M456.2,695L461.4,709 M459.6,693.1L483.9,696.2 M459.6,693.1L464.8,707.1 M463,691.1L487.3,694.3 M463,691.1L468.2,705.2 M466.4,689.2L490.7,692.4 M466.4,689.2L471.6,703.3 M469.8,687.3L494.1,690.4 M469.8,687.3L474.9,701.3 M473.2,685.3L497.4,688.5 M473.2,685.3L478.3,699.4 M476.6,683.4L500.8,686.6 M476.6,683.4L481.7,697.5 M480,681.5L504.2,684.6 M480,681.5L485.1,695.5 M483.4,679.5L507.6,682.7 M483.4,679.5L488.5,693.6 M486.7,677.6L511,680.8 M486.7,677.6L491.9,691.7 M490.1,675.7L514.4,678.8 M490.1,675.7L495.3,689.7 M493.5,673.8L517.8,676.9 M493.5,673.8L498.7,687.8 M496.9,671.8L521.2,675 M496.9,671.8L502.1,685.9 M500.3,669.9L524.6,673 M500.3,669.9L505.4,683.9 M503.7,668L527.9,671.1 M503.7,668L508.8,682 M507.1,666L531.3,669.2 M507.1,666L512.2,680.1 M510.5,664.1L534.7,667.2 M510.5,664.1L515.6,678.1 M513.8,662.2L538.1,665.3 M513.8,662.2L519,676.2 M517.2,660.2L541.5,663.4 M517.2,660.2L522.4,674.3 M520.6,658.3L544.9,661.5 M520.6,658.3L525.8,672.3 M524,656.4L548.3,659.5 M524,656.4L529.2,670.4 M527.4,654.4L551.7,657.6 M527.4,654.4L532.5,668.5 M530.8,652.5L555,655.7 M530.8,652.5L535.9,666.6 M534.2,650.6L558.4,653.7 M534.2,650.6L539.3,664.6 M537.6,648.6L561.8,651.8 M537.6,648.6L542.7,662.7 M541,646.7L565.2,649.9 M541,646.7L546.1,660.8 M544.3,644.8L568.6,647.9 M544.3,644.8L549.5,658.8 M547.7,642.9L572,646 M547.7,642.9L552.9,656.9 M551.1,640.9L575.4,644.1 M551.1,640.9L556.3,655 M554.5,639L578.8,642.1 M554.5,639L559.7,653 M557.9,637.1L582.2,640.2 M557.9,637.1L563,651.1 M561.3,635.1L585.5,638.3 M561.3,635.1L566.4,649.2 M564.7,633.2L588.9,636.3 M564.7,633.2L569.8,647.2 M568.1,631.3L592.3,634.4 M568.1,631.3L573.2,645.3 M571.4,629.3L595.7,632.5 M571.4,629.3L576.6,643.4 M574.8,627.4L599.1,630.6 M574.8,627.4L580,641.4 M578.2,625.5L602.5,628.6 M578.2,625.5L583.4,639.5 M581.6,623.5L605.9,626.7 M581.6,623.5L586.8,637.6 M585,621.6L609.3,624.8 M585,621.6L590.1,635.7 M588.4,619.7L612.6,622.8 M588.4,619.7L593.5,633.7" fill="none" stroke="#262626" stroke-width="0.95" />
</g>
<path d="M438.7,705.0 L579.4,624.8 L592.8,632.8 L453.4,713.6 Z" fill="none" stroke="#222" stroke-width="0.67" />
<clipPath id="m2"><path d="M616.4,602 L757,522.2 L770.6,531.4 L631,611 Z"/></clipPath>
<g clip-path="url(#m2)">
<path d="M606.8,607.4L631,611 M606.8,607.4L611.9,621.9 M610.2,605.5L634.4,609.1 M610.2,605.5L615.3,619.9 M613.6,603.6L637.8,607.1 M613.6,603.6L618.7,618 M617,601.7L641.2,605.2 M617,601.7L622,616.1 M620.4,599.7L644.6,603.3 M620.4,599.7L625.4,614.2 M623.8,597.8L648,601.4 M623.8,597.8L628.8,612.2 M627.2,595.9L651.4,599.4 M627.2,595.9L632.2,610.3 M630.6,594L654.7,597.5 M630.6,594L635.6,608.4 M634,592L658.1,595.6 M634,592L639,606.5 M637.4,590.1L661.5,593.7 M637.4,590.1L642.4,604.5 M640.8,588.2L664.9,591.7 M640.8,588.2L645.8,602.6 M644.1,586.3L668.3,589.8 M644.1,586.3L649.2,600.7 M647.5,584.3L671.7,587.9 M647.5,584.3L652.6,598.8 M650.9,582.4L675.1,586 M650.9,582.4L656,596.8 M654.3,580.5L678.5,584 M654.3,580.5L659.4,594.9 M657.7,578.6L681.9,582.1 M657.7,578.6L662.7,593 M661.1,576.6L685.3,580.2 M661.1,576.6L666.1,591.1 M664.5,574.7L688.7,578.3 M664.5,574.7L669.5,589.1 M667.9,572.8L692.1,576.3 M667.9,572.8L672.9,587.2 M671.3,570.9L695.4,574.4 M671.3,570.9L676.3,585.3 M674.7,568.9L698.8,572.5 M674.7,568.9L679.7,583.4 M678.1,567L702.2,570.6 M678.1,567L683.1,581.4 M681.5,565.1L705.6,568.6 M681.5,565.1L686.5,579.5 M684.8,563.2L709,566.7 M684.8,563.2L689.9,577.6 M688.2,561.2L712.4,564.8 M688.2,561.2L693.3,575.7 M691.6,559.3L715.8,562.9 M691.6,559.3L696.7,573.7 M695,557.4L719.2,560.9 M695,557.4L700.1,571.8 M698.4,555.5L722.6,559 M698.4,555.5L703.4,569.9 M701.8,553.5L726,557.1 M701.8,553.5L706.8,568 M705.2,551.6L729.4,555.2 M705.2,551.6L710.2,566 M708.6,549.7L732.8,553.2 M708.6,549.7L713.6,564.1 M712,547.8L736.1,551.3 M712,547.8L717,562.2 M715.4,545.8L739.5,549.4 M715.4,545.8L720.4,560.3 M718.8,543.9L742.9,547.5 M718.8,543.9L723.8,558.3 M722.2,542L746.3,545.5 M722.2,542L727.2,556.4 M725.5,540.1L749.7,543.6 M725.5,540.1L730.6,554.5 M728.9,538.1L753.1,541.7 M728.9,538.1L734,552.6 M732.3,536.2L756.5,539.8 M732.3,536.2L737.4,550.6 M735.7,534.3L759.9,537.8 M735.7,534.3L740.8,548.7 M739.1,532.4L763.3,535.9 M739.1,532.4L744.1,546.8 M742.5,530.4L766.7,534 M742.5,530.4L747.5,544.9 M745.9,528.5L770.1,532.1 M745.9,528.5L750.9,542.9 M749.3,526.6L773.5,530.1 M749.3,526.6L754.3,541 M752.7,524.7L776.8,528.2 M752.7,524.7L757.7,539.1 M756.1,522.7L780.2,526.3 M756.1,522.7L761.1,537.2 M759.5,520.8L783.6,524.4 M759.5,520.8L764.5,535.2 M762.9,518.9L787,522.4 M762.9,518.9L767.9,533.3 M766.2,517L790.4,520.5 M766.2,517L771.3,531.4" fill="none" stroke="#262626" stroke-width="0.95" />
</g>
<path d="M616.4,602.0 L757.0,522.2 L770.6,531.4 L631.0,611.0 Z" fill="none" stroke="#222" stroke-width="0.67" />
<circle cx="418.6" cy="711.8" r="1.05" fill="#222"/>
<circle cx="426.1" cy="726.0" r="1.05" fill="#222"/>
<circle cx="439.8" cy="723.5" r="1.05" fill="#222"/>
<circle cx="443.6" cy="711.0" r="1.05" fill="#222"/>
<circle cx="454.8" cy="689.8" r="1.05" fill="#222"/>
<circle cx="457.3" cy="716.8" r="1.05" fill="#222"/>
<circle cx="478.4" cy="702.3" r="1.05" fill="#222"/>
<circle cx="483.4" cy="676.9" r="1.05" fill="#222"/>
<circle cx="497.1" cy="700.6" r="1.05" fill="#222"/>
<circle cx="540.7" cy="666.2" r="1.05" fill="#222"/>
<circle cx="558.2" cy="664.9" r="1.05" fill="#222"/>
<circle cx="518.3" cy="653.7" r="1.05" fill="#222"/>
<circle cx="529.5" cy="651.2" r="1.05" fill="#222"/>
<circle cx="579.9" cy="618.2" r="1.05" fill="#222"/>
<circle cx="604.8" cy="604.1" r="1.05" fill="#222"/>
<circle cx="587.7" cy="627.3" r="1.05" fill="#222"/>
<circle cx="603.1" cy="630.6" r="1.05" fill="#222"/>
<circle cx="620.6" cy="630.1" r="1.05" fill="#222"/>
<circle cx="627.2" cy="616.9" r="1.05" fill="#222"/>
<circle cx="620.2" cy="608.5" r="1.05" fill="#222"/>
<circle cx="681.2" cy="594.9" r="1.05" fill="#222"/>
<circle cx="689.5" cy="581.3" r="1.05" fill="#222"/>
<circle cx="661.3" cy="575.8" r="1.05" fill="#222"/>
<circle cx="649.7" cy="575.8" r="1.05" fill="#222"/>
<circle cx="768.2" cy="510.5" r="1.05" fill="#222"/>
<circle cx="754.3" cy="518.4" r="1.05" fill="#222"/>
<circle cx="764.7" cy="524.7" r="1.05" fill="#222"/>
<circle cx="729.3" cy="531.9" r="1.05" fill="#222"/>
<circle cx="751.2" cy="544.8" r="1.05" fill="#222"/>
<circle cx="742.8" cy="559.3" r="1.05" fill="#222"/>
<circle cx="789.6" cy="522.6" r="1.05" fill="#222"/>
<circle cx="792.7" cy="515.3" r="1.05" fill="#222"/>
<circle cx="798.9" cy="518.4" r="1.05" fill="#222"/>
<circle cx="804.7" cy="523.6" r="1.05" fill="#222"/>
<circle cx="710.0" cy="567.0" r="1.05" fill="#222"/>
<circle cx="716.0" cy="553.0" r="1.05" fill="#222"/>
<line x1="453.0" y1="742.5" x2="824.0" y2="527.6" stroke="#262626" stroke-width="0.67" />
<path d="M824.0,527.6 L828.0,534.8" fill="none" stroke="#262626" stroke-width="0.67" />
<line x1="505.4" y1="722.8" x2="877.1" y2="509.4" stroke="#262626" stroke-width="0.67" />
<line x1="514.7" y1="754.2" x2="883.4" y2="542.5" stroke="#262626" stroke-width="0.67" />
<path d="M877.1,509.4 L880.5,510 C885,515 888.6,525 888.4,531 C888,537 886.4,540 883.4,542.5" fill="none" stroke="#262626" stroke-width="0.67" />
<path d="M453,742.5 L454.9,748.6 C463,753.6 480,758 504.8,758.3 C511,758 514.4,756 516,747 C516.4,738 511,728 505.4,722.8" fill="none" stroke="#262626" stroke-width="0.73" />
<ellipse cx="502.3" cy="742.3" rx="9.2" ry="4.0" fill="none" stroke="#262626" stroke-width="0.55" transform="rotate(-10 502.3 742.3)"/>
<circle cx="500.5" cy="718.5" r="0.6" fill="#333"/>
<circle cx="567.3" cy="679.8" r="0.6" fill="#333"/>
<circle cx="641.5" cy="636.8" r="0.6" fill="#333"/>
<circle cx="715.7" cy="593.9" r="0.6" fill="#333"/>
<circle cx="782.5" cy="555.2" r="0.6" fill="#333"/>
<circle cx="576.7" cy="683.1" r="0.6" fill="#333"/>
<circle cx="669.7" cy="629.8" r="0.6" fill="#333"/>
<circle cx="762.6" cy="576.4" r="0.6" fill="#333"/>
<circle cx="836.9" cy="533.7" r="0.6" fill="#333"/>
<path d="M408.4,769.2 L406.9,771.0 L405.0,772.5 L402.8,773.7 L400.3,774.7 L397.4,775.3 L394.2,775.7 L390.7,775.8 L386.9,775.6 L382.9,775.1 L378.5,774.4 L374.0,773.3 L369.3,772.0 L364.3,770.4 L359.3,768.6 L354.0,766.5 L348.7,764.1 L343.3,761.5 L337.8,758.7 L332.3,755.7 L326.8,752.6 L321.4,749.2 L316.0,745.7 L310.6,742.0 L305.4,738.2 L300.3,734.3 L295.3,730.4 L290.5,726.3 L285.9,722.3 L281.6,718.1 L277.5,714.0 L273.6,709.9 L270.1,705.8 L266.8,701.8 L263.8,697.9 L261.2,694.0 L259.0,690.3 L257.0,686.7 L255.5,683.2 L254.3,679.9 L253.5,676.8 L253.1,673.9 L253.0,671.1 L253.4,668.6 L254.1,666.4 L255.2,664.4 L256.7,662.6 L258.6,661.1 L260.8,659.9 L263.3,658.9 L266.2,658.3 L269.4,657.9 L272.9,657.8 L276.7,658.0 L280.7,658.5 L285.1,659.2 L289.6,660.3 L294.3,661.6 L299.3,663.2 L304.3,665.0 L309.6,667.1 L314.9,669.5 L320.3,672.1 L325.8,674.9 L331.3,677.9 L336.8,681.0 L342.2,684.4 L347.6,687.9 L353.0,691.6 L358.2,695.4 L363.3,699.3 L368.3,703.2 L373.1,707.3 L377.7,711.3 L382.0,715.5 L386.1,719.6 L390.0,723.7 L393.5,727.8 L396.8,731.8 L399.8,735.7 L402.4,739.6 L404.6,743.3 L406.6,746.9 L408.1,750.4 L409.3,753.7 L410.1,756.8 L410.5,759.7 L410.6,762.5 L410.2,765.0 L409.5,767.2 L408.4,769.2 Z" fill="none" stroke="#262626" stroke-width="0.73" />
<path d="M271.0,658.2 L272.9,656.9 L287.0,656.5 L289.2,658.2" fill="none" stroke="#262626" stroke-width="0.62" />
<path d="M313.7,667.6 L316.1,665.4 L333.0,674.8 L331.3,677.0" fill="none" stroke="#262626" stroke-width="0.62" />
<path d="M339.2,681.7 L341.5,679.5 L358.0,689.2 L355.2,692.0" fill="none" stroke="#262626" stroke-width="0.62" />
<path d="M381.9,713.3 L384.7,711.8 L399.3,727.9 L396.3,730.2 Z" fill="none" stroke="#262626" stroke-width="0.62" />
<circle cx="394.1" cy="726.4" r="1.0" fill="none" stroke="#262626" stroke-width="0.45"/>
<circle cx="260.7" cy="662.2" r="0.6" fill="#333"/>
<circle cx="297.3" cy="664.4" r="0.6" fill="#333"/>
<circle cx="262.2" cy="691.1" r="0.6" fill="#333"/>
<circle cx="286.0" cy="718.9" r="0.6" fill="#333"/>
<circle cx="312.3" cy="742.4" r="0.6" fill="#333"/>
<circle cx="350.5" cy="764.0" r="0.6" fill="#333"/>
<circle cx="377.5" cy="771.5" r="0.6" fill="#333"/>
<circle cx="401.6" cy="772.5" r="0.6" fill="#333"/>
<circle cx="402.5" cy="743.7" r="0.6" fill="#333"/>
<circle cx="365.9" cy="704.4" r="0.6" fill="#333"/>
<path d="M881.9,495.5 L880.5,497.3 L878.7,498.7 L876.5,499.9 L874.0,500.8 L871.1,501.4 L868.0,501.7 L864.5,501.8 L860.7,501.5 L856.7,501.0 L852.4,500.2 L847.9,499.1 L843.2,497.7 L838.3,496.1 L833.3,494.2 L828.1,492.1 L822.8,489.7 L817.4,487.1 L812.0,484.3 L806.5,481.3 L801.1,478.1 L795.6,474.7 L790.2,471.2 L784.9,467.5 L779.7,463.8 L774.6,459.9 L769.6,455.9 L764.8,451.9 L760.3,447.8 L755.9,443.7 L751.8,439.6 L747.9,435.6 L744.4,431.5 L741.1,427.5 L738.2,423.6 L735.5,419.8 L733.2,416.1 L731.3,412.6 L729.7,409.1 L728.5,405.9 L727.7,402.8 L727.3,399.9 L727.2,397.3 L727.5,394.8 L728.2,392.6 L729.3,390.7 L730.7,388.9 L732.5,387.5 L734.7,386.3 L737.2,385.4 L740.1,384.8 L743.2,384.5 L746.7,384.4 L750.5,384.7 L754.5,385.2 L758.8,386.0 L763.3,387.1 L768.0,388.5 L772.9,390.1 L777.9,392.0 L783.1,394.1 L788.4,396.5 L793.8,399.1 L799.2,401.9 L804.7,404.9 L810.1,408.1 L815.6,411.5 L821.0,415.0 L826.3,418.7 L831.5,422.4 L836.6,426.3 L841.6,430.3 L846.4,434.3 L850.9,438.4 L855.3,442.5 L859.4,446.6 L863.3,450.6 L866.8,454.7 L870.1,458.7 L873.0,462.6 L875.7,466.4 L878.0,470.1 L879.9,473.6 L881.5,477.1 L882.7,480.3 L883.5,483.4 L883.9,486.3 L884.0,488.9 L883.7,491.4 L883.0,493.6 L881.9,495.5 Z" fill="none" stroke="#262626" stroke-width="0.78" />
<path d="M883.4,481.2 L884.1,483.5 L884.6,485.7 L884.9,487.8 L885.0,489.8 L884.9,491.6 L884.6,493.4 L884.1,495.0 L883.4,496.5 L882.5,497.8 L881.4,499.0 L880.1,500.1 L878.6,501.0 L876.9,501.8 L875.1,502.4 L873.1,502.9 L870.9,503.2 L868.5,503.4 L865.9,503.5 L863.3,503.3 L860.4,503.1 L857.5,502.6 L854.4,502.1 L851.1,501.3 L847.8,500.5 L844.3,499.5 L840.8,498.3 L837.2,497.0 L833.4,495.6 L829.7,494.0 L825.8,492.3 L821.9,490.5 L818.0,488.6 L814.0,486.6 L810.0,484.4 L806.0,482.1 L802.1,479.8 L798.1,477.4 L794.1,474.8 L790.2,472.2 L786.3,469.6 L782.5,466.8 L778.7,464.0 L775.0,461.2 L771.4,458.3 L767.9,455.4 L764.5,452.4 L761.2,449.4 L758.0,446.5 L754.9,443.5 L752.0,440.5 L749.2,437.5 L746.5,434.6 L744.0,431.6 L741.7,428.7 L739.6,425.9 L737.6,423.1 L735.8,420.4 L734.2,417.7 L732.7,415.1 L731.5,412.5" fill="none" stroke="#262626" stroke-width="0.62" />
<path d="M800.1,466.1 L797.0,464.2 L793.8,462.2 L790.7,460.2 L787.6,458.1 L784.6,456.0 L781.6,453.9 L778.7,451.7 L775.9,449.6 L773.1,447.3 L770.4,445.1 L767.8,442.9 L765.3,440.7 L762.9,438.5 L760.6,436.2 L758.4,434.0 L756.3,431.9 L754.4,429.7 L752.6,427.6 L750.9,425.5 L749.3,423.5 L747.9,421.5 L746.7,419.5 L745.5,417.6 L744.6,415.8 L743.7,414.1 L743.1,412.4 L742.6,410.7 L742.2,409.2 L742.0,407.7 L742.0,406.4 L742.1,405.1 L742.4,403.9 L742.9,402.8 L743.5,401.8 L744.2,400.9 L745.1,400.1 L746.2,399.4 L747.4,398.8 L748.7,398.4 L750.2,398.0 L751.9,397.7 L753.6,397.6 L755.5,397.5 L757.5,397.6 L759.7,397.8 L761.9,398.1 L764.3,398.5 L766.8,399.0 L769.3,399.6 L772.0,400.3 L774.7,401.2 L777.5,402.1 L780.4,403.1 L783.4,404.2 L786.4,405.5 L789.4,406.8 L792.5,408.2 L795.7,409.7 L798.8,411.2 L802.0,412.9" fill="none" stroke="#262626" stroke-width="0.73" />
<path d="M808.7,416.5 L812.0,418.4 L815.2,420.4 L818.4,422.4 L821.6,424.5 L824.8,426.6 L827.9,428.7 L830.9,430.9 L833.9,433.2 L836.8,435.4 L839.6,437.7 L842.3,439.9 L845.0,442.2 L847.5,444.5 L850.0,446.8 L852.3,449.0 L854.5,451.3 L856.6,453.5 L858.5,455.7 L860.3,457.8 L862.0,459.9 L863.5,462.0 L864.9,464.0 L866.1,466.0 L867.2,467.9 L868.1,469.7 L868.8,471.5 L869.4,473.2 L869.8,474.8 L870.1,476.3 L870.2,477.8 L870.1,479.1 L869.9,480.3 L869.5,481.5 L868.9,482.5 L868.2,483.5 L867.3,484.3 L866.2,485.1 L865.0,485.7 L863.7,486.2 L862.2,486.6 L860.5,486.9 L858.7,487.0 L856.8,487.1 L854.7,487.0 L852.5,486.8 L850.2,486.5 L847.8,486.1 L845.3,485.6 L842.6,484.9 L839.9,484.2 L837.1,483.3 L834.2,482.3 L831.2,481.3 L828.2,480.1 L825.1,478.8 L822.0,477.5 L818.8,476.0 L815.6,474.5 L812.3,472.9 L809.1,471.2" fill="none" stroke="#262626" stroke-width="0.73" />
<path d="M735.7,389.7 L739.6,388.2 L754.4,387.8 L757.4,386.2" fill="none" stroke="#262626" stroke-width="0.67" />
<path d="M778.1,394.7 L781.4,395.7 L798.2,405.5 L801.9,406.3 L802.1,413.8 L798.4,412.6 L782.2,400.0 L779.5,398.8" fill="none" stroke="#262626" stroke-width="0.67" />
<path d="M798.2,405.5 L798.4,412.6" fill="none" stroke="#262626" stroke-width="0.56" />
<path d="M805.1,411.8 L808.7,410.4 L825.4,420.3 L822.5,422.9 L808.3,415.0 L805.1,411.8" fill="none" stroke="#262626" stroke-width="0.67" />
<path d="M826.4,420.9 L830.4,425.2 L836.3,426.2 L852.1,440.0" fill="none" stroke="#262626" stroke-width="0.67" />
<path d="M849.1,444.6 L852.1,442.6 L867.9,456.8 L865.9,460.4 L850.5,447.0 L849.1,444.6" fill="none" stroke="#262626" stroke-width="0.67" />
<path d="M868.8,461.2 L871.8,466.7 L876.7,468.3" fill="none" stroke="#262626" stroke-width="0.67" />
<path d="M785.0,468.7 L790.9,472.6 L797.8,476.6 L802.3,474.2 L801.9,467.1" fill="none" stroke="#262626" stroke-width="0.67" />
<path d="M804.3,480.5 L806.7,478.1 L814.6,484.8 L818.5,482.9 L822.5,490.8" fill="none" stroke="#262626" stroke-width="0.67" />
<path d="M789.9,468.3 L793.9,467.1 L792.5,472.6" fill="none" stroke="#262626" stroke-width="0.56" />
<circle cx="734.7" cy="389.1" r="0.7" fill="#333"/>
<circle cx="733.3" cy="417.4" r="0.7" fill="#333"/>
<circle cx="758.7" cy="445.6" r="0.7" fill="#333"/>
<circle cx="790.9" cy="468.7" r="0.7" fill="#333"/>
<circle cx="823.5" cy="490.8" r="0.7" fill="#333"/>
<circle cx="850.5" cy="498.7" r="0.7" fill="#333"/>
<circle cx="874.8" cy="498.7" r="0.7" fill="#333"/>
<circle cx="875.4" cy="471.0" r="0.7" fill="#333"/>
<circle cx="862.3" cy="455.8" r="0.7" fill="#333"/>
<circle cx="839.2" cy="431.2" r="0.7" fill="#333"/>
<circle cx="808.7" cy="410.4" r="0.7" fill="#333"/>
<circle cx="770.2" cy="391.3" r="0.7" fill="#333"/>
<circle cx="741.6" cy="388.7" r="0.7" fill="#333"/>
<text x="129.4" y="67.4">Крышка люка</text>
<line x1="128.9" y1="71.8" x2="237.2" y2="71.8" stroke="#6a6a6a" stroke-width="1.01" />
<line x1="237.2" y1="71.8" x2="324.3" y2="177.8" stroke="#6a6a6a" stroke-width="0.78" />
<circle cx="324.3" cy="177.8" r="2.3" fill="#000"/>
<text x="165.4" y="144.8">Крышка</text>
<text x="165.4" y="162.9">верхняя</text>
<line x1="165.3" y1="148.8" x2="233.7" y2="148.8" stroke="#6a6a6a" stroke-width="1.01" />
<line x1="233.7" y1="148.8" x2="320.2" y2="248.2" stroke="#6a6a6a" stroke-width="0.78" />
<circle cx="320.2" cy="248.2" r="2.3" fill="#000"/>
<text x="435.8" y="28.6">Штанга</text>
<line x1="435.0" y1="31.8" x2="496.0" y2="31.8" stroke="#6a6a6a" stroke-width="1.01" />
<line x1="496.0" y1="31.8" x2="526.9" y2="86.0" stroke="#6a6a6a" stroke-width="0.78" />
<circle cx="526.9" cy="86.0" r="2.3" fill="#000"/>
<text x="593.4" y="30.4">Декоративная</text>
<text x="593.4" y="47.6">накладка</text>
<line x1="588.2" y1="33.4" x2="697.3" y2="33.4" stroke="#6a6a6a" stroke-width="1.01" />
<line x1="588.2" y1="33.4" x2="543.6" y2="87.6" stroke="#6a6a6a" stroke-width="0.78" />
<circle cx="543.6" cy="87.6" r="2.3" fill="#000"/>
<text x="677" y="97.4">Крышка</text>
<text x="677" y="115.5">перфорированная</text>
<line x1="668.7" y1="102.0" x2="813.5" y2="102.0" stroke="#6a6a6a" stroke-width="1.01" />
<line x1="668.7" y1="102.0" x2="586.4" y2="185.0" stroke="#6a6a6a" stroke-width="0.78" />
<circle cx="586.4" cy="185.0" r="2.3" fill="#000"/>
<text x="701.4" y="210.2">Блок сборный</text>
<line x1="692.9" y1="214.6" x2="805.8" y2="214.6" stroke="#6a6a6a" stroke-width="1.01" />
<line x1="692.9" y1="214.6" x2="618.2" y2="306.0" stroke="#6a6a6a" stroke-width="0.78" />
<circle cx="618.2" cy="306.0" r="2.3" fill="#000"/>
<text x="731.4" y="352.4">Полотно</text>
<text x="731.4" y="370.4">крышки</text>
<line x1="723.2" y1="357.0" x2="794.4" y2="357.0" stroke="#6a6a6a" stroke-width="1.01" />
<line x1="723.2" y1="357.0" x2="679.0" y2="479.6" stroke="#6a6a6a" stroke-width="0.78" />
<circle cx="679.0" cy="479.6" r="2.3" fill="#000"/>
<text x="832.2" y="352.4">Сопло</text>
<line x1="824.1" y1="357.0" x2="879.4" y2="357.0" stroke="#6a6a6a" stroke-width="1.01" />
<line x1="824.1" y1="357.0" x2="778.6" y2="525.6" stroke="#6a6a6a" stroke-width="0.78" />
<circle cx="778.6" cy="525.6" r="2.3" fill="#000"/>
<text x="609.8" y="516.8">Светильник</text>
<line x1="601.8" y1="520.6" x2="697.2" y2="520.6" stroke="#6a6a6a" stroke-width="1.01" />
<line x1="601.8" y1="520.6" x2="573.4" y2="556.6" stroke="#6a6a6a" stroke-width="0.78" />
<circle cx="573.4" cy="556.6" r="1.6" fill="#000"/>
<text x="75" y="431.8">Блок управления</text>
<line x1="73.7" y1="436.6" x2="210.8" y2="436.6" stroke="#6a6a6a" stroke-width="1.01" />
<line x1="210.8" y1="436.6" x2="415.4" y2="381.1" stroke="#6a6a6a" stroke-width="0.78" />
<circle cx="415.4" cy="381.1" r="2.3" fill="#000"/>
<text x="75" y="458.0">Блок двигателя</text>
<line x1="73.7" y1="462.4" x2="200.8" y2="462.4" stroke="#6a6a6a" stroke-width="1.01" />
<line x1="200.8" y1="462.4" x2="437.8" y2="398.3" stroke="#6a6a6a" stroke-width="0.78" />
<circle cx="437.8" cy="398.3" r="2.3" fill="#000"/>
<text x="77" y="502.2">Блок</text>
<text x="77" y="519.6">вентиляторный</text>
<line x1="76.2" y1="506.8" x2="199.6" y2="506.8" stroke="#6a6a6a" stroke-width="1.01" />
<line x1="199.6" y1="506.8" x2="348.4" y2="454.2" stroke="#6a6a6a" stroke-width="0.78" />
<circle cx="348.4" cy="454.2" r="2.3" fill="#000"/>
<text x="145.6" y="552.4">ТЭНы</text>
<line x1="144.7" y1="557.6" x2="198.3" y2="557.6" stroke="#6a6a6a" stroke-width="1.01" />
<line x1="198.3" y1="557.6" x2="331.4" y2="583.4" stroke="#6a6a6a" stroke-width="0.78" stroke-dasharray="14 1.2"/>
<text x="77.4" y="662.4">Стенка боковая</text>
<line x1="76.9" y1="666.8" x2="202.1" y2="666.8" stroke="#6a6a6a" stroke-width="1.01" />
<line x1="202.1" y1="666.8" x2="289.3" y2="713.0" stroke="#6a6a6a" stroke-width="0.78" />
<circle cx="289.3" cy="713.0" r="2.3" fill="#000"/>
</svg>
</body></html>
